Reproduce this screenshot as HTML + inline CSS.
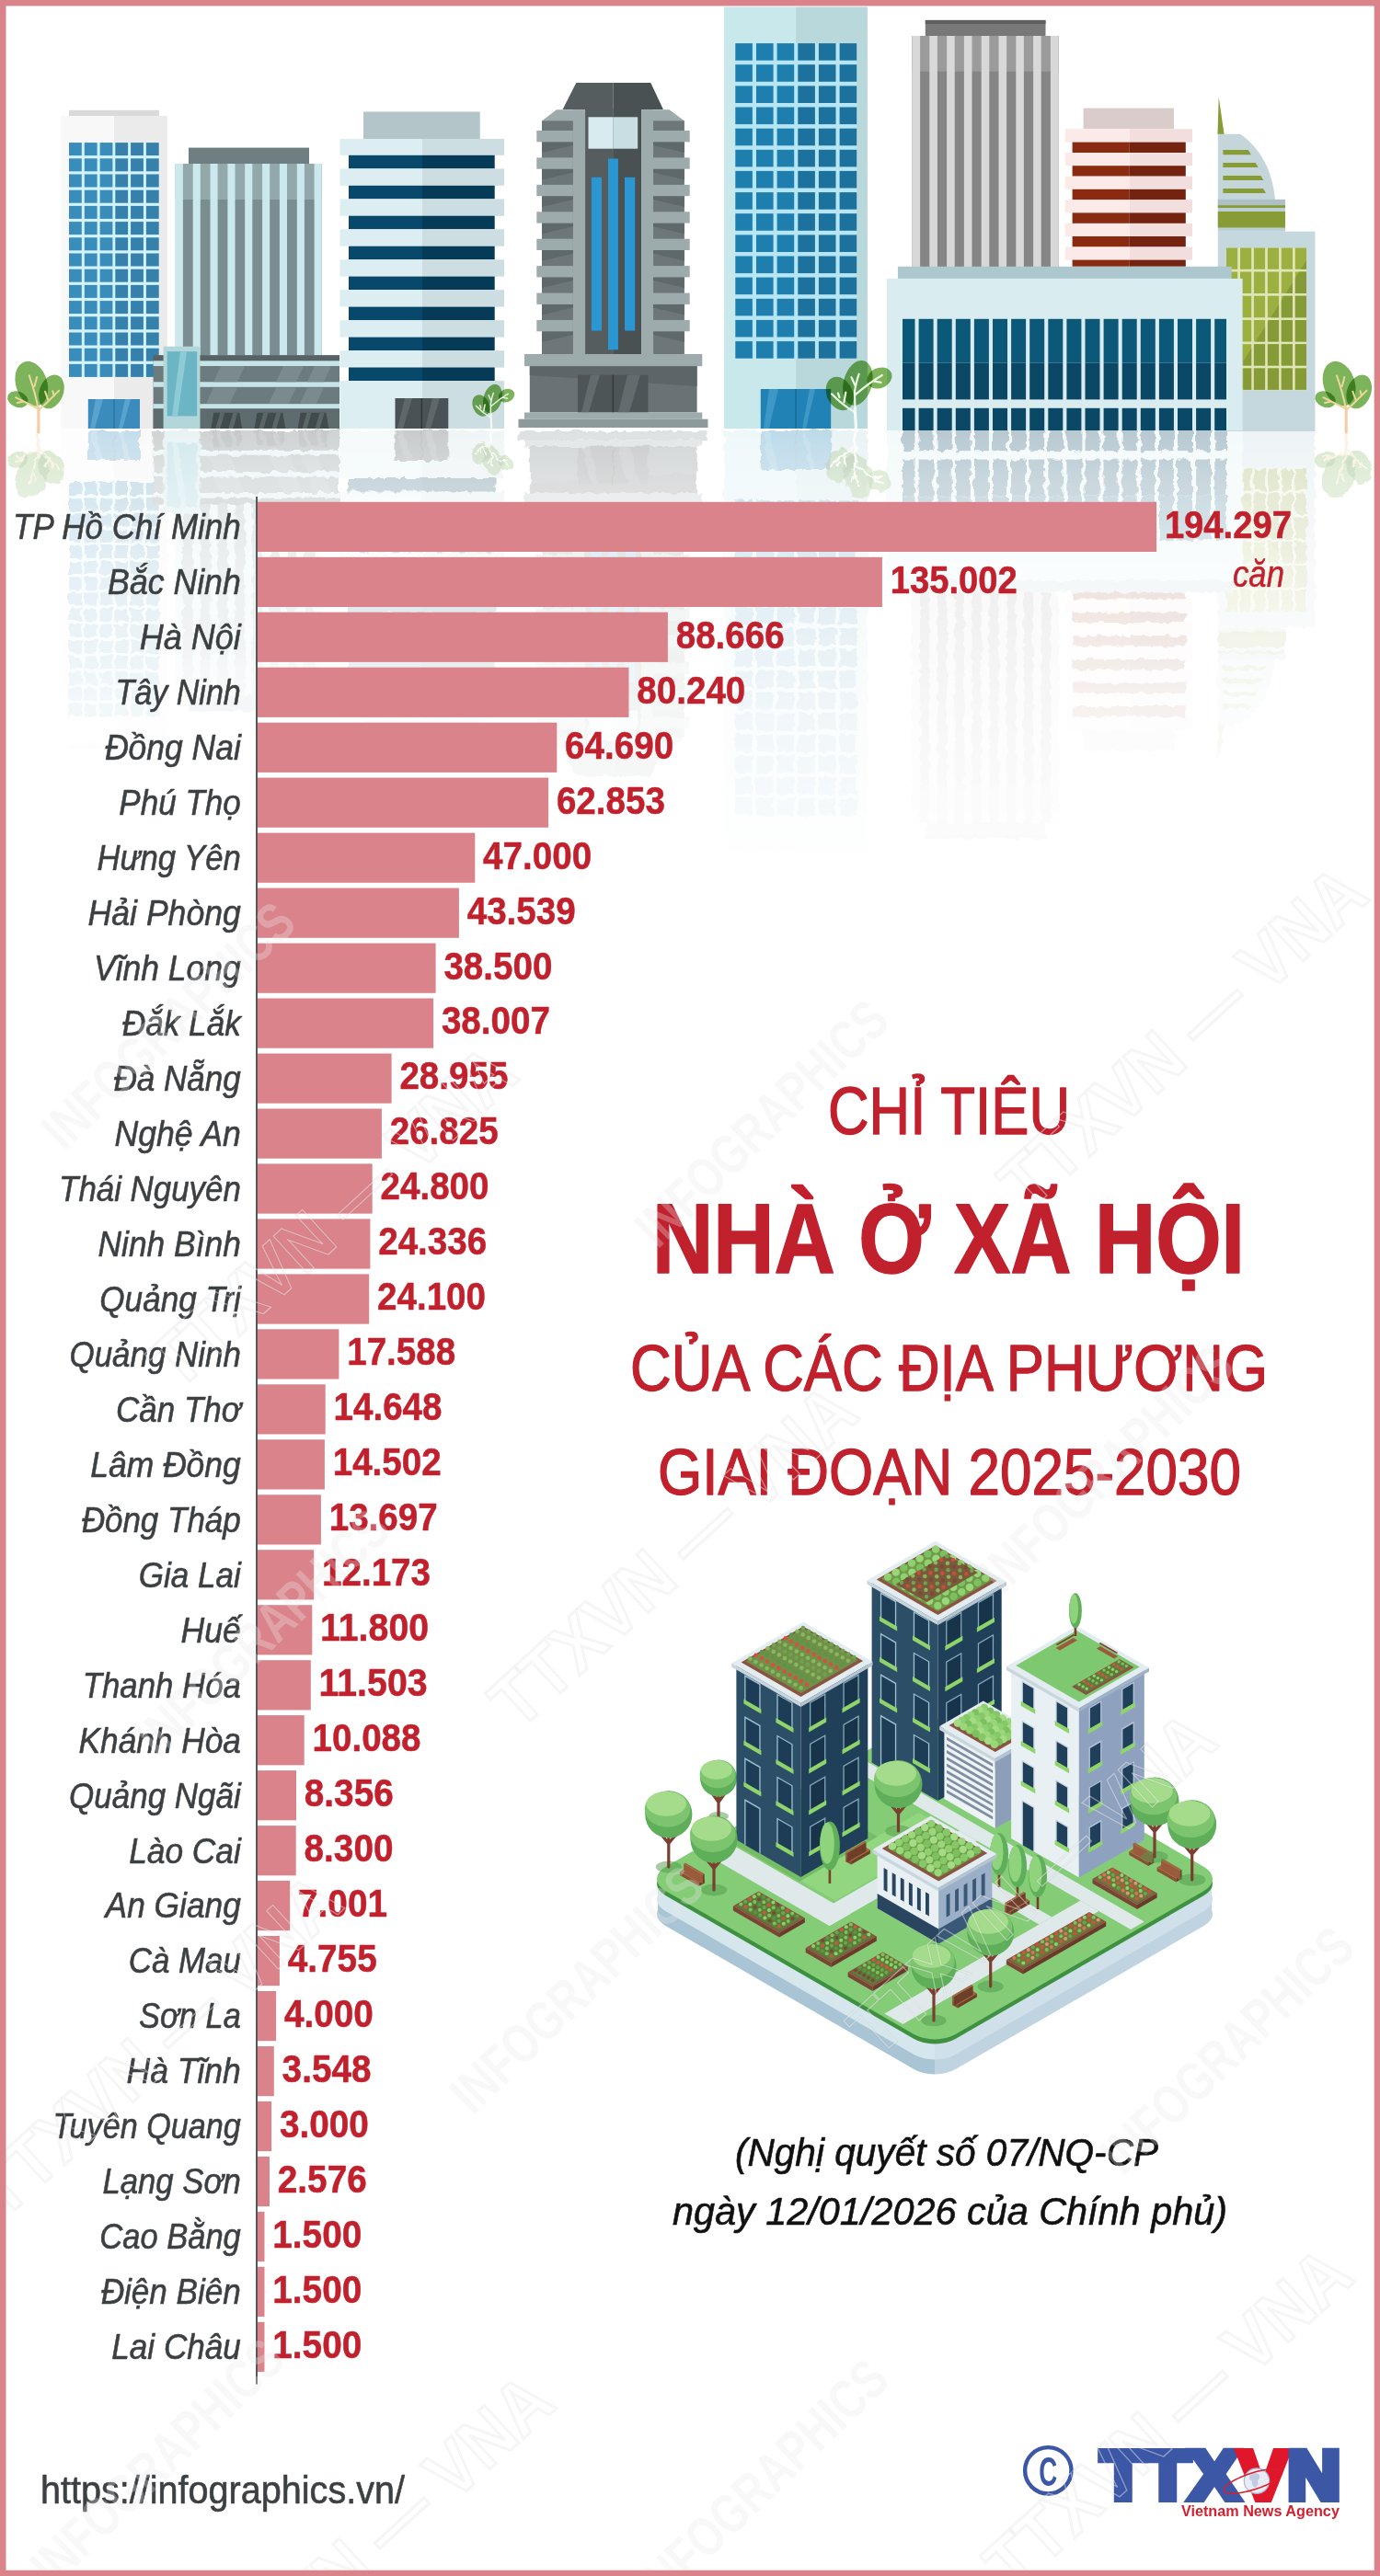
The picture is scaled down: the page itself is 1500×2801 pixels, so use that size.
<!DOCTYPE html>
<html lang="vi"><head><meta charset="utf-8"><title>Chỉ tiêu nhà ở xã hội</title>
<style>html,body{margin:0;padding:0;background:#fff}svg{display:block}text{font-family:"Liberation Sans",sans-serif}</style></head><body>
<svg width="1500" height="2801" viewBox="0 0 1500 2801">
<rect width="1500" height="2801" fill="#fff"/>
<defs><g id="sky"><rect x="1005.8" y="21.9" width="130.7" height="18.0" fill="#787878"/>
<rect x="1005.8" y="21.9" width="130.7" height="4.0" fill="#5e5e5e"/>
<rect x="991.5" y="39.0" width="159.0" height="251.0" fill="#858585"/>
<rect x="991.5" y="39.0" width="159.0" height="38.7" fill="#9b9b9b"/>
<rect x="991.5" y="39.0" width="8.6" height="251.0" fill="#d8d8d8"/>
<rect x="1010.3" y="39.0" width="8.6" height="251.0" fill="#d8d8d8"/>
<rect x="1029.1" y="39.0" width="8.6" height="251.0" fill="#d8d8d8"/>
<rect x="1047.9" y="39.0" width="8.6" height="251.0" fill="#d8d8d8"/>
<rect x="1066.7" y="39.0" width="8.6" height="251.0" fill="#d8d8d8"/>
<rect x="1085.5" y="39.0" width="8.6" height="251.0" fill="#d8d8d8"/>
<rect x="1104.3" y="39.0" width="8.6" height="251.0" fill="#d8d8d8"/>
<rect x="1123.1" y="39.0" width="8.6" height="251.0" fill="#d8d8d8"/>
<rect x="1141.9" y="39.0" width="8.6" height="251.0" fill="#d8d8d8"/>
<rect x="1177.6" y="117.6" width="98.4" height="22.7" fill="#dbcccc"/>
<rect x="1157.7" y="140.3" width="70.1" height="14.3" fill="#fbeae8"/>
<rect x="1227.8" y="140.3" width="68.2" height="14.3" fill="#f2dfdd"/>
<rect x="1165.6" y="154.6" width="62.2" height="11.5" fill="#8a2a10"/>
<rect x="1227.8" y="154.6" width="61.0" height="11.5" fill="#752311"/>
<rect x="1157.7" y="166.1" width="70.1" height="14.1" fill="#fbeae8"/>
<rect x="1227.8" y="166.1" width="68.2" height="14.1" fill="#f2dfdd"/>
<rect x="1165.6" y="180.2" width="62.2" height="11.5" fill="#8a2a10"/>
<rect x="1227.8" y="180.2" width="61.0" height="11.5" fill="#752311"/>
<rect x="1157.7" y="191.7" width="70.1" height="14.1" fill="#fbeae8"/>
<rect x="1227.8" y="191.7" width="68.2" height="14.1" fill="#f2dfdd"/>
<rect x="1165.6" y="205.8" width="62.2" height="11.5" fill="#8a2a10"/>
<rect x="1227.8" y="205.8" width="61.0" height="11.5" fill="#752311"/>
<rect x="1157.7" y="217.3" width="70.1" height="14.1" fill="#fbeae8"/>
<rect x="1227.8" y="217.3" width="68.2" height="14.1" fill="#f2dfdd"/>
<rect x="1165.6" y="231.4" width="62.2" height="11.5" fill="#8a2a10"/>
<rect x="1227.8" y="231.4" width="61.0" height="11.5" fill="#752311"/>
<rect x="1157.7" y="242.9" width="70.1" height="14.1" fill="#fbeae8"/>
<rect x="1227.8" y="242.9" width="68.2" height="14.1" fill="#f2dfdd"/>
<rect x="1165.6" y="257.0" width="62.2" height="11.5" fill="#8a2a10"/>
<rect x="1227.8" y="257.0" width="61.0" height="11.5" fill="#752311"/>
<rect x="1157.7" y="268.5" width="70.1" height="14.1" fill="#fbeae8"/>
<rect x="1227.8" y="268.5" width="68.2" height="14.1" fill="#f2dfdd"/>
<rect x="1165.6" y="282.6" width="62.2" height="7.2" fill="#8a2a10"/>
<rect x="1227.8" y="282.6" width="61.0" height="7.2" fill="#752311"/>
<rect x="1323.8" y="251.7" width="105.6" height="217.3" fill="#c4d8de"/>
<polygon points="1324.7,105.6 1323.5,146.0 1330.6,146.0" fill="#879b36"/>
<path d="M1323.8,145.7 L1348.4,145.7 Q1382,170 1386,217.5 L1323.8,217.5 Z" fill="#c5d6db"/>
<polygon points="1329.4,163.0 1356.8,163.0 1359.8,168.3 1329.4,168.3" fill="#879b36"/>
<polygon points="1329.4,177.0 1364.7,177.0 1367.7,182.0 1329.4,182.0" fill="#879b36"/>
<polygon points="1329.4,191.1 1370.4,191.1 1373.4,196.0 1329.4,196.0" fill="#879b36"/>
<polygon points="1329.4,205.0 1373.0,205.0 1376.0,210.0 1329.4,210.0" fill="#879b36"/>
<rect x="1323.8" y="216.9" width="73.2" height="34.8" fill="#bccfd4"/>
<rect x="1323.8" y="216.9" width="73.2" height="6.3" fill="#aebfc6"/>
<rect x="1323.8" y="223.2" width="73.2" height="2.8" fill="#879b36"/>
<rect x="1323.8" y="230.0" width="73.2" height="17.5" fill="#879b36"/>
<rect x="1333.0" y="269.4" width="87.0" height="154.9" fill="#dfe5b4"/>
<clipPath id="gw"><rect x="1333.0" y="269.4" width="12.2" height="23.4"/><rect x="1333.0" y="295.6" width="12.2" height="23.4"/><rect x="1333.0" y="321.8" width="12.2" height="23.4"/><rect x="1333.0" y="348.0" width="12.2" height="23.4"/><rect x="1333.0" y="374.2" width="12.2" height="23.4"/><rect x="1333.0" y="400.4" width="12.2" height="23.4"/><rect x="1348.0" y="269.4" width="12.2" height="23.4"/><rect x="1348.0" y="295.6" width="12.2" height="23.4"/><rect x="1348.0" y="321.8" width="12.2" height="23.4"/><rect x="1348.0" y="348.0" width="12.2" height="23.4"/><rect x="1348.0" y="374.2" width="12.2" height="23.4"/><rect x="1348.0" y="400.4" width="12.2" height="23.4"/><rect x="1362.9" y="269.4" width="12.2" height="23.4"/><rect x="1362.9" y="295.6" width="12.2" height="23.4"/><rect x="1362.9" y="321.8" width="12.2" height="23.4"/><rect x="1362.9" y="348.0" width="12.2" height="23.4"/><rect x="1362.9" y="374.2" width="12.2" height="23.4"/><rect x="1362.9" y="400.4" width="12.2" height="23.4"/><rect x="1377.9" y="269.4" width="12.2" height="23.4"/><rect x="1377.9" y="295.6" width="12.2" height="23.4"/><rect x="1377.9" y="321.8" width="12.2" height="23.4"/><rect x="1377.9" y="348.0" width="12.2" height="23.4"/><rect x="1377.9" y="374.2" width="12.2" height="23.4"/><rect x="1377.9" y="400.4" width="12.2" height="23.4"/><rect x="1392.8" y="269.4" width="12.2" height="23.4"/><rect x="1392.8" y="295.6" width="12.2" height="23.4"/><rect x="1392.8" y="321.8" width="12.2" height="23.4"/><rect x="1392.8" y="348.0" width="12.2" height="23.4"/><rect x="1392.8" y="374.2" width="12.2" height="23.4"/><rect x="1392.8" y="400.4" width="12.2" height="23.4"/><rect x="1407.8" y="269.4" width="12.2" height="23.4"/><rect x="1407.8" y="295.6" width="12.2" height="23.4"/><rect x="1407.8" y="321.8" width="12.2" height="23.4"/><rect x="1407.8" y="348.0" width="12.2" height="23.4"/><rect x="1407.8" y="374.2" width="12.2" height="23.4"/><rect x="1407.8" y="400.4" width="12.2" height="23.4"/></clipPath>
<g clip-path="url(#gw)"><rect x="1330.0" y="265.0" width="95.0" height="165.0" fill="#9bb040"/><polygon points="1420.5,282.3 1420.5,425.0 1351.5,425.0 1351.5,392.8" fill="#869a37"/></g>
<rect x="975.9" y="289.8" width="362.7" height="13.3" fill="#acc8ce"/>
<rect x="964.0" y="302.9" width="386.6" height="165.1" fill="#d9edf1"/>
<rect x="981.0" y="346.8" width="13.5" height="47.8" fill="#0c5878"/>
<rect x="981.0" y="394.6" width="13.5" height="39.8" fill="#0a4866"/>
<rect x="981.0" y="443.8" width="13.5" height="24.2" fill="#0a4866"/>
<rect x="998.6" y="346.8" width="16.0" height="47.8" fill="#0c5878"/>
<rect x="998.6" y="394.6" width="16.0" height="39.8" fill="#0a4866"/>
<rect x="998.6" y="443.8" width="16.0" height="24.2" fill="#0a4866"/>
<rect x="1018.7" y="346.8" width="16.0" height="47.8" fill="#0c5878"/>
<rect x="1018.7" y="394.6" width="16.0" height="39.8" fill="#0a4866"/>
<rect x="1018.7" y="443.8" width="16.0" height="24.2" fill="#0a4866"/>
<rect x="1038.8" y="346.8" width="16.0" height="47.8" fill="#0c5878"/>
<rect x="1038.8" y="394.6" width="16.0" height="39.8" fill="#0a4866"/>
<rect x="1038.8" y="443.8" width="16.0" height="24.2" fill="#0a4866"/>
<rect x="1058.9" y="346.8" width="16.0" height="47.8" fill="#0c5878"/>
<rect x="1058.9" y="394.6" width="16.0" height="39.8" fill="#0a4866"/>
<rect x="1058.9" y="443.8" width="16.0" height="24.2" fill="#0a4866"/>
<rect x="1079.0" y="346.8" width="16.0" height="47.8" fill="#0c5878"/>
<rect x="1079.0" y="394.6" width="16.0" height="39.8" fill="#0a4866"/>
<rect x="1079.0" y="443.8" width="16.0" height="24.2" fill="#0a4866"/>
<rect x="1099.1" y="346.8" width="16.0" height="47.8" fill="#0c5878"/>
<rect x="1099.1" y="394.6" width="16.0" height="39.8" fill="#0a4866"/>
<rect x="1099.1" y="443.8" width="16.0" height="24.2" fill="#0a4866"/>
<rect x="1119.2" y="346.8" width="16.0" height="47.8" fill="#0c5878"/>
<rect x="1119.2" y="394.6" width="16.0" height="39.8" fill="#0a4866"/>
<rect x="1119.2" y="443.8" width="16.0" height="24.2" fill="#0a4866"/>
<rect x="1139.3" y="346.8" width="16.0" height="47.8" fill="#0c5878"/>
<rect x="1139.3" y="394.6" width="16.0" height="39.8" fill="#0a4866"/>
<rect x="1139.3" y="443.8" width="16.0" height="24.2" fill="#0a4866"/>
<rect x="1159.4" y="346.8" width="16.0" height="47.8" fill="#0c5878"/>
<rect x="1159.4" y="394.6" width="16.0" height="39.8" fill="#0a4866"/>
<rect x="1159.4" y="443.8" width="16.0" height="24.2" fill="#0a4866"/>
<rect x="1179.5" y="346.8" width="16.0" height="47.8" fill="#0c5878"/>
<rect x="1179.5" y="394.6" width="16.0" height="39.8" fill="#0a4866"/>
<rect x="1179.5" y="443.8" width="16.0" height="24.2" fill="#0a4866"/>
<rect x="1199.6" y="346.8" width="16.0" height="47.8" fill="#0c5878"/>
<rect x="1199.6" y="394.6" width="16.0" height="39.8" fill="#0a4866"/>
<rect x="1199.6" y="443.8" width="16.0" height="24.2" fill="#0a4866"/>
<rect x="1219.7" y="346.8" width="16.0" height="47.8" fill="#0c5878"/>
<rect x="1219.7" y="394.6" width="16.0" height="39.8" fill="#0a4866"/>
<rect x="1219.7" y="443.8" width="16.0" height="24.2" fill="#0a4866"/>
<rect x="1239.8" y="346.8" width="16.0" height="47.8" fill="#0c5878"/>
<rect x="1239.8" y="394.6" width="16.0" height="39.8" fill="#0a4866"/>
<rect x="1239.8" y="443.8" width="16.0" height="24.2" fill="#0a4866"/>
<rect x="1259.9" y="346.8" width="16.0" height="47.8" fill="#0c5878"/>
<rect x="1259.9" y="394.6" width="16.0" height="39.8" fill="#0a4866"/>
<rect x="1259.9" y="443.8" width="16.0" height="24.2" fill="#0a4866"/>
<rect x="1280.0" y="346.8" width="16.0" height="47.8" fill="#0c5878"/>
<rect x="1280.0" y="394.6" width="16.0" height="39.8" fill="#0a4866"/>
<rect x="1280.0" y="443.8" width="16.0" height="24.2" fill="#0a4866"/>
<rect x="1300.1" y="346.8" width="16.0" height="47.8" fill="#0c5878"/>
<rect x="1300.1" y="394.6" width="16.0" height="39.8" fill="#0a4866"/>
<rect x="1300.1" y="443.8" width="16.0" height="24.2" fill="#0a4866"/>
<rect x="1320.2" y="346.8" width="12.8" height="47.8" fill="#0c5878"/>
<rect x="1320.2" y="394.6" width="12.8" height="39.8" fill="#0a4866"/>
<rect x="1320.2" y="443.8" width="12.8" height="24.2" fill="#0a4866"/>
<rect x="787.1" y="7.5" width="78.0" height="458.5" fill="#c9e8ec"/>
<rect x="865.1" y="7.5" width="77.8" height="458.5" fill="#b9d8dc"/>
<rect x="799.3" y="47.1" width="131.9" height="342.6" fill="#b6e6f3"/>
<rect x="799.3" y="47.1" width="18.6" height="18.6" fill="#1e7faf"/>
<rect x="799.3" y="70.2" width="18.6" height="18.6" fill="#1e7faf"/>
<rect x="799.3" y="93.4" width="18.6" height="18.6" fill="#1e7faf"/>
<rect x="799.3" y="116.5" width="18.6" height="18.6" fill="#1e7faf"/>
<rect x="799.3" y="139.7" width="18.6" height="18.6" fill="#1e7faf"/>
<rect x="799.3" y="162.8" width="18.6" height="18.6" fill="#1e7faf"/>
<rect x="799.3" y="185.9" width="18.6" height="18.6" fill="#1e7faf"/>
<rect x="799.3" y="209.1" width="18.6" height="18.6" fill="#1e7faf"/>
<rect x="799.3" y="232.2" width="18.6" height="18.6" fill="#1e7faf"/>
<rect x="799.3" y="255.4" width="18.6" height="18.6" fill="#1e7faf"/>
<rect x="799.3" y="278.5" width="18.6" height="18.6" fill="#1e7faf"/>
<rect x="799.3" y="301.6" width="18.6" height="18.6" fill="#1e7faf"/>
<rect x="799.3" y="324.8" width="18.6" height="18.6" fill="#1e7faf"/>
<rect x="799.3" y="347.9" width="18.6" height="18.6" fill="#1e7faf"/>
<rect x="799.3" y="371.1" width="18.6" height="18.6" fill="#1e7faf"/>
<rect x="822.0" y="47.1" width="18.6" height="18.6" fill="#1e7faf"/>
<rect x="822.0" y="70.2" width="18.6" height="18.6" fill="#1e7faf"/>
<rect x="822.0" y="93.4" width="18.6" height="18.6" fill="#1e7faf"/>
<rect x="822.0" y="116.5" width="18.6" height="18.6" fill="#1e7faf"/>
<rect x="822.0" y="139.7" width="18.6" height="18.6" fill="#1e7faf"/>
<rect x="822.0" y="162.8" width="18.6" height="18.6" fill="#1e7faf"/>
<rect x="822.0" y="185.9" width="18.6" height="18.6" fill="#1e7faf"/>
<rect x="822.0" y="209.1" width="18.6" height="18.6" fill="#1e7faf"/>
<rect x="822.0" y="232.2" width="18.6" height="18.6" fill="#1e7faf"/>
<rect x="822.0" y="255.4" width="18.6" height="18.6" fill="#1e7faf"/>
<rect x="822.0" y="278.5" width="18.6" height="18.6" fill="#1e7faf"/>
<rect x="822.0" y="301.6" width="18.6" height="18.6" fill="#1e7faf"/>
<rect x="822.0" y="324.8" width="18.6" height="18.6" fill="#1e7faf"/>
<rect x="822.0" y="347.9" width="18.6" height="18.6" fill="#1e7faf"/>
<rect x="822.0" y="371.1" width="18.6" height="18.6" fill="#1e7faf"/>
<rect x="844.6" y="47.1" width="18.6" height="18.6" fill="#1e7faf"/>
<rect x="844.6" y="70.2" width="18.6" height="18.6" fill="#1e7faf"/>
<rect x="844.6" y="93.4" width="18.6" height="18.6" fill="#1e7faf"/>
<rect x="844.6" y="116.5" width="18.6" height="18.6" fill="#1e7faf"/>
<rect x="844.6" y="139.7" width="18.6" height="18.6" fill="#1e7faf"/>
<rect x="844.6" y="162.8" width="18.6" height="18.6" fill="#1e7faf"/>
<rect x="844.6" y="185.9" width="18.6" height="18.6" fill="#1e7faf"/>
<rect x="844.6" y="209.1" width="18.6" height="18.6" fill="#1e7faf"/>
<rect x="844.6" y="232.2" width="18.6" height="18.6" fill="#1e7faf"/>
<rect x="844.6" y="255.4" width="18.6" height="18.6" fill="#1e7faf"/>
<rect x="844.6" y="278.5" width="18.6" height="18.6" fill="#1e7faf"/>
<rect x="844.6" y="301.6" width="18.6" height="18.6" fill="#1e7faf"/>
<rect x="844.6" y="324.8" width="18.6" height="18.6" fill="#1e7faf"/>
<rect x="844.6" y="347.9" width="18.6" height="18.6" fill="#1e7faf"/>
<rect x="844.6" y="371.1" width="18.6" height="18.6" fill="#1e7faf"/>
<rect x="867.3" y="47.1" width="18.6" height="18.6" fill="#1c729d"/>
<rect x="867.3" y="70.2" width="18.6" height="18.6" fill="#1c729d"/>
<rect x="867.3" y="93.4" width="18.6" height="18.6" fill="#1c729d"/>
<rect x="867.3" y="116.5" width="18.6" height="18.6" fill="#1c729d"/>
<rect x="867.3" y="139.7" width="18.6" height="18.6" fill="#1c729d"/>
<rect x="867.3" y="162.8" width="18.6" height="18.6" fill="#1c729d"/>
<rect x="867.3" y="185.9" width="18.6" height="18.6" fill="#1c729d"/>
<rect x="867.3" y="209.1" width="18.6" height="18.6" fill="#1c729d"/>
<rect x="867.3" y="232.2" width="18.6" height="18.6" fill="#1c729d"/>
<rect x="867.3" y="255.4" width="18.6" height="18.6" fill="#1c729d"/>
<rect x="867.3" y="278.5" width="18.6" height="18.6" fill="#1c729d"/>
<rect x="867.3" y="301.6" width="18.6" height="18.6" fill="#1c729d"/>
<rect x="867.3" y="324.8" width="18.6" height="18.6" fill="#1c729d"/>
<rect x="867.3" y="347.9" width="18.6" height="18.6" fill="#1c729d"/>
<rect x="867.3" y="371.1" width="18.6" height="18.6" fill="#1c729d"/>
<rect x="889.9" y="47.1" width="18.6" height="18.6" fill="#1c729d"/>
<rect x="889.9" y="70.2" width="18.6" height="18.6" fill="#1c729d"/>
<rect x="889.9" y="93.4" width="18.6" height="18.6" fill="#1c729d"/>
<rect x="889.9" y="116.5" width="18.6" height="18.6" fill="#1c729d"/>
<rect x="889.9" y="139.7" width="18.6" height="18.6" fill="#1c729d"/>
<rect x="889.9" y="162.8" width="18.6" height="18.6" fill="#1c729d"/>
<rect x="889.9" y="185.9" width="18.6" height="18.6" fill="#1c729d"/>
<rect x="889.9" y="209.1" width="18.6" height="18.6" fill="#1c729d"/>
<rect x="889.9" y="232.2" width="18.6" height="18.6" fill="#1c729d"/>
<rect x="889.9" y="255.4" width="18.6" height="18.6" fill="#1c729d"/>
<rect x="889.9" y="278.5" width="18.6" height="18.6" fill="#1c729d"/>
<rect x="889.9" y="301.6" width="18.6" height="18.6" fill="#1c729d"/>
<rect x="889.9" y="324.8" width="18.6" height="18.6" fill="#1c729d"/>
<rect x="889.9" y="347.9" width="18.6" height="18.6" fill="#1c729d"/>
<rect x="889.9" y="371.1" width="18.6" height="18.6" fill="#1c729d"/>
<rect x="912.6" y="47.1" width="18.6" height="18.6" fill="#1c729d"/>
<rect x="912.6" y="70.2" width="18.6" height="18.6" fill="#1c729d"/>
<rect x="912.6" y="93.4" width="18.6" height="18.6" fill="#1c729d"/>
<rect x="912.6" y="116.5" width="18.6" height="18.6" fill="#1c729d"/>
<rect x="912.6" y="139.7" width="18.6" height="18.6" fill="#1c729d"/>
<rect x="912.6" y="162.8" width="18.6" height="18.6" fill="#1c729d"/>
<rect x="912.6" y="185.9" width="18.6" height="18.6" fill="#1c729d"/>
<rect x="912.6" y="209.1" width="18.6" height="18.6" fill="#1c729d"/>
<rect x="912.6" y="232.2" width="18.6" height="18.6" fill="#1c729d"/>
<rect x="912.6" y="255.4" width="18.6" height="18.6" fill="#1c729d"/>
<rect x="912.6" y="278.5" width="18.6" height="18.6" fill="#1c729d"/>
<rect x="912.6" y="301.6" width="18.6" height="18.6" fill="#1c729d"/>
<rect x="912.6" y="324.8" width="18.6" height="18.6" fill="#1c729d"/>
<rect x="912.6" y="347.9" width="18.6" height="18.6" fill="#1c729d"/>
<rect x="912.6" y="371.1" width="18.6" height="18.6" fill="#1c729d"/>
<rect x="826.8" y="423.0" width="76.4" height="43.0" fill="#2183b5"/>
<rect x="864.4" y="423.0" width="1.2" height="43.0" fill="#17658e"/>
<polygon points="836.0,423.0 846.0,423.0 836.0,466.0 830.0,466.0" fill="#3d98c6"/><polygon points="880.0,423.0 886.0,423.0 876.0,466.0 872.0,466.0" fill="#3d98c6"/>
<polygon points="626.3,90.1 666.6,90.1 666.6,119.0 611.6,119.0" fill="#565d5f"/>
<polygon points="666.6,90.1 707.3,90.1 720.9,119.0 666.6,119.0" fill="#4a5153"/>
<polygon points="605.0,119.3 727.5,119.3 743.9,131.5 589.0,131.5" fill="#9dabad"/>
<rect x="589.0" y="131.2" width="154.9" height="254.0" fill="#6d7779"/>
<rect x="636.0" y="118.4" width="30.6" height="267.0" fill="#565d5f"/>
<rect x="666.6" y="118.4" width="30.4" height="267.0" fill="#4a5153"/>
<rect x="622.9" y="119.3" width="13.2" height="266.0" fill="#9dabad"/>
<rect x="697.0" y="119.3" width="13.1" height="266.0" fill="#9dabad"/>
<rect x="639.5" y="127.3" width="27.1" height="34.4" fill="#d8ecf0"/>
<rect x="666.6" y="127.3" width="26.6" height="34.4" fill="#c8dee2"/>
<rect x="661.0" y="172.5" width="10.9" height="207.8" fill="#2a96d2"/>
<rect x="642.9" y="192.8" width="11.1" height="166.8" fill="#2a96d2"/>
<rect x="679.0" y="192.8" width="11.2" height="166.8" fill="#2a96d2"/>
<polygon points="589.0,154.3 622.9,154.3 622.9,158.0 589.0,166.0" fill="#5f696b"/>
<polygon points="710.1,154.3 743.9,154.3 743.9,166.0 710.1,158.0" fill="#5f696b"/>
<rect x="583.3" y="142.0" width="39.6" height="12.3" fill="#9dabad"/>
<rect x="710.0" y="142.0" width="39.7" height="12.3" fill="#9dabad"/>
<polygon points="589.0,183.7 622.9,183.7 622.9,187.4 589.0,195.4" fill="#5f696b"/>
<polygon points="710.1,183.7 743.9,183.7 743.9,195.4 710.1,187.4" fill="#5f696b"/>
<rect x="583.3" y="171.4" width="39.6" height="12.3" fill="#9dabad"/>
<rect x="710.0" y="171.4" width="39.7" height="12.3" fill="#9dabad"/>
<polygon points="589.0,213.2 622.9,213.2 622.9,216.9 589.0,224.9" fill="#5f696b"/>
<polygon points="710.1,213.2 743.9,213.2 743.9,224.9 710.1,216.9" fill="#5f696b"/>
<rect x="583.3" y="200.9" width="39.6" height="12.3" fill="#9dabad"/>
<rect x="710.0" y="200.9" width="39.7" height="12.3" fill="#9dabad"/>
<polygon points="589.0,242.6 622.9,242.6 622.9,246.3 589.0,254.3" fill="#5f696b"/>
<polygon points="710.1,242.6 743.9,242.6 743.9,254.3 710.1,246.3" fill="#5f696b"/>
<rect x="583.3" y="230.3" width="39.6" height="12.3" fill="#9dabad"/>
<rect x="710.0" y="230.3" width="39.7" height="12.3" fill="#9dabad"/>
<polygon points="589.0,272.0 622.9,272.0 622.9,275.7 589.0,283.7" fill="#5f696b"/>
<polygon points="710.1,272.0 743.9,272.0 743.9,283.7 710.1,275.7" fill="#5f696b"/>
<rect x="583.3" y="259.7" width="39.6" height="12.3" fill="#9dabad"/>
<rect x="710.0" y="259.7" width="39.7" height="12.3" fill="#9dabad"/>
<polygon points="589.0,301.4 622.9,301.4 622.9,305.1 589.0,313.1" fill="#5f696b"/>
<polygon points="710.1,301.4 743.9,301.4 743.9,313.1 710.1,305.1" fill="#5f696b"/>
<rect x="583.3" y="289.1" width="39.6" height="12.3" fill="#9dabad"/>
<rect x="710.0" y="289.1" width="39.7" height="12.3" fill="#9dabad"/>
<polygon points="589.0,330.9 622.9,330.9 622.9,334.6 589.0,342.6" fill="#5f696b"/>
<polygon points="710.1,330.9 743.9,330.9 743.9,342.6 710.1,334.6" fill="#5f696b"/>
<rect x="583.3" y="318.6" width="39.6" height="12.3" fill="#9dabad"/>
<rect x="710.0" y="318.6" width="39.7" height="12.3" fill="#9dabad"/>
<polygon points="589.0,360.3 622.9,360.3 622.9,364.0 589.0,372.0" fill="#5f696b"/>
<polygon points="710.1,360.3 743.9,360.3 743.9,372.0 710.1,364.0" fill="#5f696b"/>
<rect x="583.3" y="348.0" width="39.6" height="12.3" fill="#9dabad"/>
<rect x="710.0" y="348.0" width="39.7" height="12.3" fill="#9dabad"/>
<rect x="570.0" y="385.0" width="193.3" height="13.2" fill="#9dabad"/>
<rect x="575.8" y="398.2" width="181.8" height="50.3" fill="#697375"/>
<polygon points="575.8,398.2 757.6,398.2 757.6,420.0 575.8,408.0" fill="#5c6567"/>
<rect x="628.0" y="407.6" width="76.5" height="40.9" fill="#4d5557"/>
<polygon points="642.0,407.6 652.0,407.6 640.0,448.5 632.0,448.5" fill="#626b6d"/><polygon points="682.0,407.6 696.0,407.6 684.0,448.5 672.0,448.5" fill="#626b6d"/>
<rect x="665.8" y="407.6" width="1.2" height="40.9" fill="#2f3536"/>
<rect x="570.0" y="448.5" width="193.3" height="7.2" fill="#9dabad"/>
<rect x="563.5" y="455.7" width="206.0" height="9.3" fill="#8c9a9c"/>
<rect x="395.0" y="121.5" width="126.7" height="29.5" fill="#b3c5c8"/>
<rect x="369.5" y="151.0" width="89.5" height="17.8" fill="#dceef2"/>
<rect x="459.0" y="151.0" width="89.0" height="17.8" fill="#ccdee2"/>
<rect x="379.0" y="168.8" width="80.0" height="14.6" fill="#08486a"/>
<rect x="459.0" y="168.8" width="78.7" height="14.6" fill="#063b57"/>
<rect x="369.5" y="183.4" width="89.5" height="18.4" fill="#dceef2"/>
<rect x="459.0" y="183.4" width="89.0" height="18.4" fill="#ccdee2"/>
<rect x="379.0" y="201.8" width="80.0" height="14.6" fill="#08486a"/>
<rect x="459.0" y="201.8" width="78.7" height="14.6" fill="#063b57"/>
<rect x="369.5" y="216.4" width="89.5" height="18.4" fill="#dceef2"/>
<rect x="459.0" y="216.4" width="89.0" height="18.4" fill="#ccdee2"/>
<rect x="379.0" y="234.7" width="80.0" height="14.6" fill="#08486a"/>
<rect x="459.0" y="234.7" width="78.7" height="14.6" fill="#063b57"/>
<rect x="369.5" y="249.3" width="89.5" height="18.4" fill="#dceef2"/>
<rect x="459.0" y="249.3" width="89.0" height="18.4" fill="#ccdee2"/>
<rect x="379.0" y="267.7" width="80.0" height="14.6" fill="#08486a"/>
<rect x="459.0" y="267.7" width="78.7" height="14.6" fill="#063b57"/>
<rect x="369.5" y="282.3" width="89.5" height="18.4" fill="#dceef2"/>
<rect x="459.0" y="282.3" width="89.0" height="18.4" fill="#ccdee2"/>
<rect x="379.0" y="300.6" width="80.0" height="14.6" fill="#08486a"/>
<rect x="459.0" y="300.6" width="78.7" height="14.6" fill="#063b57"/>
<rect x="369.5" y="315.2" width="89.5" height="18.4" fill="#dceef2"/>
<rect x="459.0" y="315.2" width="89.0" height="18.4" fill="#ccdee2"/>
<rect x="379.0" y="333.6" width="80.0" height="14.6" fill="#08486a"/>
<rect x="459.0" y="333.6" width="78.7" height="14.6" fill="#063b57"/>
<rect x="369.5" y="348.2" width="89.5" height="18.4" fill="#dceef2"/>
<rect x="459.0" y="348.2" width="89.0" height="18.4" fill="#ccdee2"/>
<rect x="379.0" y="366.6" width="80.0" height="14.6" fill="#08486a"/>
<rect x="459.0" y="366.6" width="78.7" height="14.6" fill="#063b57"/>
<rect x="369.5" y="381.2" width="89.5" height="18.4" fill="#dceef2"/>
<rect x="459.0" y="381.2" width="89.0" height="18.4" fill="#ccdee2"/>
<rect x="379.0" y="399.5" width="80.0" height="14.6" fill="#08486a"/>
<rect x="459.0" y="399.5" width="78.7" height="14.6" fill="#063b57"/>
<rect x="369.5" y="414.1" width="89.5" height="51.9" fill="#dceef2"/>
<rect x="459.0" y="414.1" width="89.0" height="51.9" fill="#ccdee2"/>
<rect x="429.5" y="433.0" width="57.8" height="33.0" fill="#495355"/>
<polygon points="440.0,433.0 448.0,433.0 438.0,466.0 432.0,466.0" fill="#5e686a"/><polygon points="470.0,433.0 478.0,433.0 468.0,466.0 462.0,466.0" fill="#5e686a"/>
<rect x="457.8" y="433.0" width="1.2" height="33.0" fill="#2c3335"/>
<rect x="74.9" y="119.8" width="98.0" height="6.6" fill="#dadada"/>
<rect x="66.0" y="126.0" width="58.0" height="340.0" fill="#f8f8f8"/>
<rect x="124.0" y="126.0" width="57.7" height="340.0" fill="#ebebeb"/>
<rect x="75.0" y="155.1" width="97.8" height="254.8" fill="#d2f3fb"/>
<rect x="75.0" y="155.1" width="13.8" height="14.0" fill="#3a8cba"/>
<rect x="75.0" y="172.3" width="13.8" height="14.0" fill="#3a8cba"/>
<rect x="75.0" y="189.5" width="13.8" height="14.0" fill="#3a8cba"/>
<rect x="75.0" y="206.7" width="13.8" height="14.0" fill="#3a8cba"/>
<rect x="75.0" y="223.9" width="13.8" height="14.0" fill="#3a8cba"/>
<rect x="75.0" y="241.1" width="13.8" height="14.0" fill="#3a8cba"/>
<rect x="75.0" y="258.3" width="13.8" height="14.0" fill="#3a8cba"/>
<rect x="75.0" y="275.5" width="13.8" height="14.0" fill="#3a8cba"/>
<rect x="75.0" y="292.7" width="13.8" height="14.0" fill="#3a8cba"/>
<rect x="75.0" y="309.9" width="13.8" height="14.0" fill="#3a8cba"/>
<rect x="75.0" y="327.1" width="13.8" height="14.0" fill="#3a8cba"/>
<rect x="75.0" y="344.3" width="13.8" height="14.0" fill="#3a8cba"/>
<rect x="75.0" y="361.5" width="13.8" height="14.0" fill="#3a8cba"/>
<rect x="75.0" y="378.7" width="13.8" height="14.0" fill="#3a8cba"/>
<rect x="75.0" y="395.9" width="13.8" height="14.0" fill="#3a8cba"/>
<rect x="91.8" y="155.1" width="13.8" height="14.0" fill="#3a8cba"/>
<rect x="91.8" y="172.3" width="13.8" height="14.0" fill="#3a8cba"/>
<rect x="91.8" y="189.5" width="13.8" height="14.0" fill="#3a8cba"/>
<rect x="91.8" y="206.7" width="13.8" height="14.0" fill="#3a8cba"/>
<rect x="91.8" y="223.9" width="13.8" height="14.0" fill="#3a8cba"/>
<rect x="91.8" y="241.1" width="13.8" height="14.0" fill="#3a8cba"/>
<rect x="91.8" y="258.3" width="13.8" height="14.0" fill="#3a8cba"/>
<rect x="91.8" y="275.5" width="13.8" height="14.0" fill="#3a8cba"/>
<rect x="91.8" y="292.7" width="13.8" height="14.0" fill="#3a8cba"/>
<rect x="91.8" y="309.9" width="13.8" height="14.0" fill="#3a8cba"/>
<rect x="91.8" y="327.1" width="13.8" height="14.0" fill="#3a8cba"/>
<rect x="91.8" y="344.3" width="13.8" height="14.0" fill="#3a8cba"/>
<rect x="91.8" y="361.5" width="13.8" height="14.0" fill="#3a8cba"/>
<rect x="91.8" y="378.7" width="13.8" height="14.0" fill="#3a8cba"/>
<rect x="91.8" y="395.9" width="13.8" height="14.0" fill="#3a8cba"/>
<rect x="108.6" y="155.1" width="13.8" height="14.0" fill="#3a8cba"/>
<rect x="108.6" y="172.3" width="13.8" height="14.0" fill="#3a8cba"/>
<rect x="108.6" y="189.5" width="13.8" height="14.0" fill="#3a8cba"/>
<rect x="108.6" y="206.7" width="13.8" height="14.0" fill="#3a8cba"/>
<rect x="108.6" y="223.9" width="13.8" height="14.0" fill="#3a8cba"/>
<rect x="108.6" y="241.1" width="13.8" height="14.0" fill="#3a8cba"/>
<rect x="108.6" y="258.3" width="13.8" height="14.0" fill="#3a8cba"/>
<rect x="108.6" y="275.5" width="13.8" height="14.0" fill="#3a8cba"/>
<rect x="108.6" y="292.7" width="13.8" height="14.0" fill="#3a8cba"/>
<rect x="108.6" y="309.9" width="13.8" height="14.0" fill="#3a8cba"/>
<rect x="108.6" y="327.1" width="13.8" height="14.0" fill="#3a8cba"/>
<rect x="108.6" y="344.3" width="13.8" height="14.0" fill="#3a8cba"/>
<rect x="108.6" y="361.5" width="13.8" height="14.0" fill="#3a8cba"/>
<rect x="108.6" y="378.7" width="13.8" height="14.0" fill="#3a8cba"/>
<rect x="108.6" y="395.9" width="13.8" height="14.0" fill="#3a8cba"/>
<rect x="125.3" y="155.1" width="13.8" height="14.0" fill="#3581ac"/>
<rect x="125.3" y="172.3" width="13.8" height="14.0" fill="#3581ac"/>
<rect x="125.3" y="189.5" width="13.8" height="14.0" fill="#3581ac"/>
<rect x="125.3" y="206.7" width="13.8" height="14.0" fill="#3581ac"/>
<rect x="125.3" y="223.9" width="13.8" height="14.0" fill="#3581ac"/>
<rect x="125.3" y="241.1" width="13.8" height="14.0" fill="#3581ac"/>
<rect x="125.3" y="258.3" width="13.8" height="14.0" fill="#3581ac"/>
<rect x="125.3" y="275.5" width="13.8" height="14.0" fill="#3581ac"/>
<rect x="125.3" y="292.7" width="13.8" height="14.0" fill="#3581ac"/>
<rect x="125.3" y="309.9" width="13.8" height="14.0" fill="#3581ac"/>
<rect x="125.3" y="327.1" width="13.8" height="14.0" fill="#3581ac"/>
<rect x="125.3" y="344.3" width="13.8" height="14.0" fill="#3581ac"/>
<rect x="125.3" y="361.5" width="13.8" height="14.0" fill="#3581ac"/>
<rect x="125.3" y="378.7" width="13.8" height="14.0" fill="#3581ac"/>
<rect x="125.3" y="395.9" width="13.8" height="14.0" fill="#3581ac"/>
<rect x="142.1" y="155.1" width="13.8" height="14.0" fill="#3581ac"/>
<rect x="142.1" y="172.3" width="13.8" height="14.0" fill="#3581ac"/>
<rect x="142.1" y="189.5" width="13.8" height="14.0" fill="#3581ac"/>
<rect x="142.1" y="206.7" width="13.8" height="14.0" fill="#3581ac"/>
<rect x="142.1" y="223.9" width="13.8" height="14.0" fill="#3581ac"/>
<rect x="142.1" y="241.1" width="13.8" height="14.0" fill="#3581ac"/>
<rect x="142.1" y="258.3" width="13.8" height="14.0" fill="#3581ac"/>
<rect x="142.1" y="275.5" width="13.8" height="14.0" fill="#3581ac"/>
<rect x="142.1" y="292.7" width="13.8" height="14.0" fill="#3581ac"/>
<rect x="142.1" y="309.9" width="13.8" height="14.0" fill="#3581ac"/>
<rect x="142.1" y="327.1" width="13.8" height="14.0" fill="#3581ac"/>
<rect x="142.1" y="344.3" width="13.8" height="14.0" fill="#3581ac"/>
<rect x="142.1" y="361.5" width="13.8" height="14.0" fill="#3581ac"/>
<rect x="142.1" y="378.7" width="13.8" height="14.0" fill="#3581ac"/>
<rect x="142.1" y="395.9" width="13.8" height="14.0" fill="#3581ac"/>
<rect x="158.9" y="155.1" width="13.8" height="14.0" fill="#3581ac"/>
<rect x="158.9" y="172.3" width="13.8" height="14.0" fill="#3581ac"/>
<rect x="158.9" y="189.5" width="13.8" height="14.0" fill="#3581ac"/>
<rect x="158.9" y="206.7" width="13.8" height="14.0" fill="#3581ac"/>
<rect x="158.9" y="223.9" width="13.8" height="14.0" fill="#3581ac"/>
<rect x="158.9" y="241.1" width="13.8" height="14.0" fill="#3581ac"/>
<rect x="158.9" y="258.3" width="13.8" height="14.0" fill="#3581ac"/>
<rect x="158.9" y="275.5" width="13.8" height="14.0" fill="#3581ac"/>
<rect x="158.9" y="292.7" width="13.8" height="14.0" fill="#3581ac"/>
<rect x="158.9" y="309.9" width="13.8" height="14.0" fill="#3581ac"/>
<rect x="158.9" y="327.1" width="13.8" height="14.0" fill="#3581ac"/>
<rect x="158.9" y="344.3" width="13.8" height="14.0" fill="#3581ac"/>
<rect x="158.9" y="361.5" width="13.8" height="14.0" fill="#3581ac"/>
<rect x="158.9" y="378.7" width="13.8" height="14.0" fill="#3581ac"/>
<rect x="158.9" y="395.9" width="13.8" height="14.0" fill="#3581ac"/>
<rect x="95.8" y="434.0" width="56.2" height="32.0" fill="#3b8cbd"/>
<rect x="123.4" y="434.0" width="1.2" height="32.0" fill="#2a6f9b"/>
<polygon points="104.0,434.0 112.0,434.0 103.0,466.0 98.0,466.0" fill="#5aa3cf"/><polygon points="136.0,434.0 142.0,434.0 133.0,466.0 129.0,466.0" fill="#5aa3cf"/>
<rect x="205.0" y="160.6" width="131.0" height="21.0" fill="#6f7e81"/>
<rect x="190.8" y="178.0" width="158.9" height="208.5" fill="#7a8d90"/>
<rect x="190.8" y="178.0" width="158.9" height="39.0" fill="#93a8aa"/>
<rect x="190.8" y="178.0" width="8.1" height="208.5" fill="#cbe8ec"/>
<rect x="209.7" y="178.0" width="8.1" height="208.5" fill="#cbe8ec"/>
<rect x="228.5" y="178.0" width="8.1" height="208.5" fill="#cbe8ec"/>
<rect x="247.4" y="178.0" width="8.1" height="208.5" fill="#cbe8ec"/>
<rect x="266.2" y="178.0" width="8.1" height="208.5" fill="#cbe8ec"/>
<rect x="285.1" y="178.0" width="8.1" height="208.5" fill="#cbe8ec"/>
<rect x="303.9" y="178.0" width="8.1" height="208.5" fill="#cbe8ec"/>
<rect x="322.8" y="178.0" width="8.1" height="208.5" fill="#cbe8ec"/>
<rect x="341.6" y="178.0" width="8.1" height="208.5" fill="#cbe8ec"/>
<rect x="166.6" y="386.3" width="202.4" height="79.7" fill="#6b7b7e"/>
<rect x="166.6" y="386.3" width="202.4" height="6.0" fill="#566265"/>
<rect x="166.6" y="392.4" width="202.4" height="5.6" fill="#c6e4e8"/>
<rect x="166.6" y="415.3" width="202.4" height="5.5" fill="#c6e4e8"/>
<rect x="166.6" y="439.2" width="202.4" height="5.0" fill="#c6e4e8"/>
<polygon points="240.0,398.0 266.0,398.0 258.0,415.3 232.0,415.3" fill="#7b8a8d"/>
<polygon points="232.0,421.5 258.0,421.5 250.0,438.7 224.0,438.7" fill="#7b8a8d"/>
<polygon points="308.0,398.0 330.0,398.0 322.0,415.3 300.0,415.3" fill="#7b8a8d"/>
<polygon points="300.0,421.5 322.0,421.5 314.0,438.7 292.0,438.7" fill="#7b8a8d"/>
<polygon points="342.0,398.0 360.0,398.0 352.0,415.3 334.0,415.3" fill="#7b8a8d"/>
<polygon points="334.0,421.5 352.0,421.5 344.0,438.7 326.0,438.7" fill="#7b8a8d"/>
<rect x="166.6" y="444.7" width="202.4" height="21.3" fill="#5e6c6f"/>
<polygon points="232.3,448.7 260.2,448.7 263.2,466.0 229.3,466.0" fill="#414a4c"/>
<polygon points="239.3,448.7 244.3,448.7 239.3,466.0 234.3,466.0" fill="#5b6669"/><polygon points="253.3,448.7 258.3,448.7 253.3,466.0 248.3,466.0" fill="#5b6669"/>
<polygon points="279.4,448.7 307.3,448.7 310.3,466.0 276.4,466.0" fill="#414a4c"/>
<polygon points="286.4,448.7 291.4,448.7 286.4,466.0 281.4,466.0" fill="#5b6669"/><polygon points="300.4,448.7 305.4,448.7 300.4,466.0 295.4,466.0" fill="#5b6669"/>
<polygon points="326.6,448.7 354.4,448.7 357.4,466.0 323.6,466.0" fill="#414a4c"/>
<polygon points="333.6,448.7 338.6,448.7 333.6,466.0 328.6,466.0" fill="#5b6669"/><polygon points="347.6,448.7 352.6,448.7 347.6,466.0 342.6,466.0" fill="#5b6669"/>
<rect x="177.6" y="376.7" width="39.9" height="89.3" fill="#b3d6da"/>
<rect x="181.7" y="382.2" width="32.5" height="70.2" fill="#6cb5c4"/>
<polygon points="196.0,382.2 203.0,382.2 193.0,452.4 187.0,452.4" fill="#8fcbd6"/>
<g><ellipse cx="1455.6" cy="417.2" rx="17" ry="25" fill="#7db35b" style="mix-blend-mode:multiply" transform="rotate(-18 1455.6 417.2)"/><ellipse cx="1477.2" cy="425.9" rx="13" ry="19" fill="#7db35b" style="mix-blend-mode:multiply" transform="rotate(20 1477.2 425.9)"/><ellipse cx="1440.6" cy="434.2" rx="11.5" ry="8.5" fill="#7db35b" style="mix-blend-mode:multiply" transform="rotate(20 1440.6 434.2)"/><path d="M1463.2,470 L1463.2,444.5 M1463.2,446 Q1460,428 1453,408.4 M1458.8,420 L1461.4,410 M1463.2,446 L1470,440 L1485.5,424.6 M1474,436 L1470.4,425.8 M1480,430.5 L1478.6,425.2 M1463,444.5 L1438.3,432.2 M1447,436.5 L1440,438" stroke="#ead79a" stroke-width="2" fill="none" stroke-linecap="round"/><path d="M1463.2,470 L1463.2,443" stroke="#f2cda5" stroke-width="3" fill="none" stroke-linecap="round"/></g>
<g transform="translate(-1421.3,0)"><ellipse cx="1455.6" cy="417.2" rx="17" ry="25" fill="#7db35b" style="mix-blend-mode:multiply" transform="rotate(-18 1455.6 417.2)"/><ellipse cx="1477.2" cy="425.9" rx="13" ry="19" fill="#7db35b" style="mix-blend-mode:multiply" transform="rotate(20 1477.2 425.9)"/><ellipse cx="1440.6" cy="434.2" rx="11.5" ry="8.5" fill="#7db35b" style="mix-blend-mode:multiply" transform="rotate(20 1440.6 434.2)"/><path d="M1463.2,470 L1463.2,444.5 M1463.2,446 Q1460,428 1453,408.4 M1458.8,420 L1461.4,410 M1463.2,446 L1470,440 L1485.5,424.6 M1474,436 L1470.4,425.8 M1480,430.5 L1478.6,425.2 M1463,444.5 L1438.3,432.2 M1447,436.5 L1440,438" stroke="#ead79a" stroke-width="2" fill="none" stroke-linecap="round"/><path d="M1463.2,470 L1463.2,443" stroke="#f2cda5" stroke-width="3" fill="none" stroke-linecap="round"/></g>
<g><ellipse cx="932.4" cy="416.4" rx="15.5" ry="25" fill="#7db35b" style="mix-blend-mode:multiply" transform="rotate(15 932.4 416.4)"/><ellipse cx="956" cy="411" rx="14" ry="11" fill="#7db35b" style="mix-blend-mode:multiply" transform="rotate(-25 956 411)"/><ellipse cx="912.7" cy="428" rx="14" ry="19" fill="#7db35b" style="mix-blend-mode:multiply" transform="rotate(-25 912.7 428)"/><path d="M930.4,465.4 Q929,440 929.1,425 Q931,414 933.7,406.7 M925.5,410.3 L929.8,419.8 M930.1,428.9 Q945,416 958.8,408 M950.7,414.6 L957.5,415.9 M928.5,447.8 Q915,440 904,428.3 M910.9,427.6 L912.5,432.2 M919.3,426.6 L917.4,437.4" stroke="#eaf9e2" stroke-width="2.2" fill="none" stroke-linecap="round"/><path d="M930.4,465.4 L929.3,444" stroke="#f4fbf4" stroke-width="3.2" fill="none" stroke-linecap="round"/></g>
<g transform="translate(534.2,464.9) scale(0.64) translate(-930.4,-465.4)"><ellipse cx="932.4" cy="416.4" rx="15.5" ry="25" fill="#7db35b" style="mix-blend-mode:multiply" transform="rotate(15 932.4 416.4)"/><ellipse cx="956" cy="411" rx="14" ry="11" fill="#7db35b" style="mix-blend-mode:multiply" transform="rotate(-25 956 411)"/><ellipse cx="912.7" cy="428" rx="14" ry="19" fill="#7db35b" style="mix-blend-mode:multiply" transform="rotate(-25 912.7 428)"/><path d="M930.4,465.4 Q929,440 929.1,425 Q931,414 933.7,406.7 M925.5,410.3 L929.8,419.8 M930.1,428.9 Q945,416 958.8,408 M950.7,414.6 L957.5,415.9 M928.5,447.8 Q915,440 904,428.3 M910.9,427.6 L912.5,432.2 M919.3,426.6 L917.4,437.4" stroke="#eaf9e2" stroke-width="2.2" fill="none" stroke-linecap="round"/><path d="M930.4,465.4 L929.3,444" stroke="#f4fbf4" stroke-width="3.2" fill="none" stroke-linecap="round"/></g></g>
<linearGradient id="fade" x1="0" y1="466" x2="0" y2="960" gradientUnits="userSpaceOnUse"><stop offset="0" stop-color="#fff" stop-opacity="0.30"/><stop offset="0.12" stop-color="#fff" stop-opacity="0.22"/><stop offset="0.3" stop-color="#fff" stop-opacity="0.14"/><stop offset="0.6" stop-color="#fff" stop-opacity="0.07"/><stop offset="0.9" stop-color="#fff" stop-opacity="0.03"/><stop offset="1" stop-color="#fff" stop-opacity="0"/></linearGradient>
<mask id="rm" maskUnits="userSpaceOnUse" x="0" y="460" width="1500" height="520"><rect x="0" y="460" width="1500" height="520" fill="url(#fade)"/></mask></defs>
<filter id="rough" x="0" y="460" width="1500" height="520" filterUnits="userSpaceOnUse"><feTurbulence type="fractalNoise" baseFrequency="0.11" numOctaves="2" seed="7" result="n"/><feDisplacementMap in="SourceGraphic" in2="n" scale="7" xChannelSelector="R" yChannelSelector="G"/></filter>
<g mask="url(#rm)"><g filter="url(#rough)"><use href="#sky" transform="translate(0,934) scale(1,-1)"/></g></g>
<use href="#sky"/>
<rect x="278" y="540" width="2" height="2052.5" fill="#55595c"/>
<rect x="280" y="545.8" width="977.1" height="54.2" fill="#db838b"/>
<rect x="280" y="605.8" width="678.9" height="54.2" fill="#db838b"/>
<rect x="280" y="665.7" width="445.9" height="54.2" fill="#db838b"/>
<rect x="280" y="725.7" width="403.5" height="54.2" fill="#db838b"/>
<rect x="280" y="785.7" width="325.3" height="54.2" fill="#db838b"/>
<rect x="280" y="845.6" width="316.1" height="54.2" fill="#db838b"/>
<rect x="280" y="905.6" width="236.3" height="54.2" fill="#db838b"/>
<rect x="280" y="965.6" width="218.9" height="54.2" fill="#db838b"/>
<rect x="280" y="1025.6" width="193.6" height="54.2" fill="#db838b"/>
<rect x="280" y="1085.5" width="191.1" height="54.2" fill="#db838b"/>
<rect x="280" y="1145.5" width="145.6" height="54.2" fill="#db838b"/>
<rect x="280" y="1205.5" width="134.9" height="54.2" fill="#db838b"/>
<rect x="280" y="1265.4" width="124.7" height="54.2" fill="#db838b"/>
<rect x="280" y="1325.4" width="122.4" height="54.2" fill="#db838b"/>
<rect x="280" y="1385.4" width="121.2" height="54.2" fill="#db838b"/>
<rect x="280" y="1445.3" width="88.4" height="54.2" fill="#db838b"/>
<rect x="280" y="1505.3" width="73.7" height="54.2" fill="#db838b"/>
<rect x="280" y="1565.3" width="72.9" height="54.2" fill="#db838b"/>
<rect x="280" y="1625.3" width="68.9" height="54.2" fill="#db838b"/>
<rect x="280" y="1685.2" width="61.2" height="54.2" fill="#db838b"/>
<rect x="280" y="1745.2" width="59.3" height="54.2" fill="#db838b"/>
<rect x="280" y="1805.2" width="57.8" height="54.2" fill="#db838b"/>
<rect x="280" y="1865.1" width="50.7" height="54.2" fill="#db838b"/>
<rect x="280" y="1925.1" width="42.0" height="54.2" fill="#db838b"/>
<rect x="280" y="1985.1" width="41.7" height="54.2" fill="#db838b"/>
<rect x="280" y="2045.0" width="35.2" height="54.2" fill="#db838b"/>
<rect x="280" y="2105.0" width="23.9" height="54.2" fill="#db838b"/>
<rect x="280" y="2165.0" width="20.1" height="54.2" fill="#db838b"/>
<rect x="280" y="2225.0" width="17.8" height="54.2" fill="#db838b"/>
<rect x="280" y="2284.9" width="15.1" height="54.2" fill="#db838b"/>
<rect x="280" y="2344.9" width="13.0" height="54.2" fill="#db838b"/>
<rect x="280" y="2404.9" width="7.5" height="54.2" fill="#db838b"/>
<rect x="280" y="2464.8" width="7.5" height="54.2" fill="#db838b"/>
<rect x="280" y="2524.8" width="7.5" height="54.2" fill="#db838b"/>
<text x="14.1" y="586.2" font-size="39.5" font-weight="normal" font-style="italic" fill="#3d4043" textLength="247.7" lengthAdjust="spacingAndGlyphs" stroke="#3d4043" stroke-width="0.6" stroke-linejoin="round">TP Hồ Chí Minh</text>
<text x="1265.9" y="584.7" font-size="42" font-weight="bold" font-style="normal" fill="#c1202d" textLength="138.0" lengthAdjust="spacingAndGlyphs" stroke="#c1202d" stroke-width="0.5" stroke-linejoin="round">194.297</text>
<text x="117.1" y="646.2" font-size="39.5" font-weight="normal" font-style="italic" fill="#3d4043" textLength="144.7" lengthAdjust="spacingAndGlyphs" stroke="#3d4043" stroke-width="0.6" stroke-linejoin="round">Bắc Ninh</text>
<text x="967.7" y="644.7" font-size="42" font-weight="bold" font-style="normal" fill="#c1202d" textLength="138.0" lengthAdjust="spacingAndGlyphs" stroke="#c1202d" stroke-width="0.5" stroke-linejoin="round">135.002</text>
<text x="151.8" y="706.1" font-size="39.5" font-weight="normal" font-style="italic" fill="#3d4043" textLength="110.0" lengthAdjust="spacingAndGlyphs" stroke="#3d4043" stroke-width="0.6" stroke-linejoin="round">Hà Nội</text>
<text x="734.7" y="704.6" font-size="42" font-weight="bold" font-style="normal" fill="#c1202d" textLength="118.0" lengthAdjust="spacingAndGlyphs" stroke="#c1202d" stroke-width="0.5" stroke-linejoin="round">88.666</text>
<text x="125.5" y="766.1" font-size="39.5" font-weight="normal" font-style="italic" fill="#3d4043" textLength="136.3" lengthAdjust="spacingAndGlyphs" stroke="#3d4043" stroke-width="0.6" stroke-linejoin="round">Tây Ninh</text>
<text x="692.3" y="764.6" font-size="42" font-weight="bold" font-style="normal" fill="#c1202d" textLength="118.0" lengthAdjust="spacingAndGlyphs" stroke="#c1202d" stroke-width="0.5" stroke-linejoin="round">80.240</text>
<text x="113.9" y="826.1" font-size="39.5" font-weight="normal" font-style="italic" fill="#3d4043" textLength="147.9" lengthAdjust="spacingAndGlyphs" stroke="#3d4043" stroke-width="0.6" stroke-linejoin="round">Đồng Nai</text>
<text x="614.1" y="824.6" font-size="42" font-weight="bold" font-style="normal" fill="#c1202d" textLength="118.0" lengthAdjust="spacingAndGlyphs" stroke="#c1202d" stroke-width="0.5" stroke-linejoin="round">64.690</text>
<text x="129.3" y="886.0" font-size="39.5" font-weight="normal" font-style="italic" fill="#3d4043" textLength="132.5" lengthAdjust="spacingAndGlyphs" stroke="#3d4043" stroke-width="0.6" stroke-linejoin="round">Phú Thọ</text>
<text x="604.9" y="884.5" font-size="42" font-weight="bold" font-style="normal" fill="#c1202d" textLength="118.0" lengthAdjust="spacingAndGlyphs" stroke="#c1202d" stroke-width="0.5" stroke-linejoin="round">62.853</text>
<text x="105.5" y="946.0" font-size="39.5" font-weight="normal" font-style="italic" fill="#3d4043" textLength="156.3" lengthAdjust="spacingAndGlyphs" stroke="#3d4043" stroke-width="0.6" stroke-linejoin="round">Hưng Yên</text>
<text x="525.1" y="944.5" font-size="42" font-weight="bold" font-style="normal" fill="#c1202d" textLength="118.0" lengthAdjust="spacingAndGlyphs" stroke="#c1202d" stroke-width="0.5" stroke-linejoin="round">47.000</text>
<text x="95.6" y="1006.0" font-size="39.5" font-weight="normal" font-style="italic" fill="#3d4043" textLength="166.2" lengthAdjust="spacingAndGlyphs" stroke="#3d4043" stroke-width="0.6" stroke-linejoin="round">Hải Phòng</text>
<text x="507.7" y="1004.5" font-size="42" font-weight="bold" font-style="normal" fill="#c1202d" textLength="118.0" lengthAdjust="spacingAndGlyphs" stroke="#c1202d" stroke-width="0.5" stroke-linejoin="round">43.539</text>
<text x="102.0" y="1066.0" font-size="39.5" font-weight="normal" font-style="italic" fill="#3d4043" textLength="159.8" lengthAdjust="spacingAndGlyphs" stroke="#3d4043" stroke-width="0.6" stroke-linejoin="round">Vĩnh Long</text>
<text x="482.4" y="1064.5" font-size="42" font-weight="bold" font-style="normal" fill="#c1202d" textLength="118.0" lengthAdjust="spacingAndGlyphs" stroke="#c1202d" stroke-width="0.5" stroke-linejoin="round">38.500</text>
<text x="132.8" y="1125.9" font-size="39.5" font-weight="normal" font-style="italic" fill="#3d4043" textLength="129.0" lengthAdjust="spacingAndGlyphs" stroke="#3d4043" stroke-width="0.6" stroke-linejoin="round">Đắk Lắk</text>
<text x="479.9" y="1124.4" font-size="42" font-weight="bold" font-style="normal" fill="#c1202d" textLength="118.0" lengthAdjust="spacingAndGlyphs" stroke="#c1202d" stroke-width="0.5" stroke-linejoin="round">38.007</text>
<text x="123.4" y="1185.9" font-size="39.5" font-weight="normal" font-style="italic" fill="#3d4043" textLength="138.4" lengthAdjust="spacingAndGlyphs" stroke="#3d4043" stroke-width="0.6" stroke-linejoin="round">Đà Nẵng</text>
<text x="434.4" y="1184.4" font-size="42" font-weight="bold" font-style="normal" fill="#c1202d" textLength="118.0" lengthAdjust="spacingAndGlyphs" stroke="#c1202d" stroke-width="0.5" stroke-linejoin="round">28.955</text>
<text x="124.4" y="1245.9" font-size="39.5" font-weight="normal" font-style="italic" fill="#3d4043" textLength="137.4" lengthAdjust="spacingAndGlyphs" stroke="#3d4043" stroke-width="0.6" stroke-linejoin="round">Nghệ An</text>
<text x="423.7" y="1244.4" font-size="42" font-weight="bold" font-style="normal" fill="#c1202d" textLength="118.0" lengthAdjust="spacingAndGlyphs" stroke="#c1202d" stroke-width="0.5" stroke-linejoin="round">26.825</text>
<text x="64.1" y="1305.8" font-size="39.5" font-weight="normal" font-style="italic" fill="#3d4043" textLength="197.7" lengthAdjust="spacingAndGlyphs" stroke="#3d4043" stroke-width="0.6" stroke-linejoin="round">Thái Nguyên</text>
<text x="413.5" y="1304.3" font-size="42" font-weight="bold" font-style="normal" fill="#c1202d" textLength="118.0" lengthAdjust="spacingAndGlyphs" stroke="#c1202d" stroke-width="0.5" stroke-linejoin="round">24.800</text>
<text x="106.6" y="1365.8" font-size="39.5" font-weight="normal" font-style="italic" fill="#3d4043" textLength="155.2" lengthAdjust="spacingAndGlyphs" stroke="#3d4043" stroke-width="0.6" stroke-linejoin="round">Ninh Bình</text>
<text x="411.2" y="1364.3" font-size="42" font-weight="bold" font-style="normal" fill="#c1202d" textLength="118.0" lengthAdjust="spacingAndGlyphs" stroke="#c1202d" stroke-width="0.5" stroke-linejoin="round">24.336</text>
<text x="108.3" y="1425.8" font-size="39.5" font-weight="normal" font-style="italic" fill="#3d4043" textLength="153.5" lengthAdjust="spacingAndGlyphs" stroke="#3d4043" stroke-width="0.6" stroke-linejoin="round">Quảng Trị</text>
<text x="410.0" y="1424.3" font-size="42" font-weight="bold" font-style="normal" fill="#c1202d" textLength="118.0" lengthAdjust="spacingAndGlyphs" stroke="#c1202d" stroke-width="0.5" stroke-linejoin="round">24.100</text>
<text x="75.5" y="1485.8" font-size="39.5" font-weight="normal" font-style="italic" fill="#3d4043" textLength="186.3" lengthAdjust="spacingAndGlyphs" stroke="#3d4043" stroke-width="0.6" stroke-linejoin="round">Quảng Ninh</text>
<text x="377.2" y="1484.2" font-size="42" font-weight="bold" font-style="normal" fill="#c1202d" textLength="118.0" lengthAdjust="spacingAndGlyphs" stroke="#c1202d" stroke-width="0.5" stroke-linejoin="round">17.588</text>
<text x="126.1" y="1545.7" font-size="39.5" font-weight="normal" font-style="italic" fill="#3d4043" textLength="135.7" lengthAdjust="spacingAndGlyphs" stroke="#3d4043" stroke-width="0.6" stroke-linejoin="round">Cần Thơ</text>
<text x="362.5" y="1544.2" font-size="42" font-weight="bold" font-style="normal" fill="#c1202d" textLength="118.0" lengthAdjust="spacingAndGlyphs" stroke="#c1202d" stroke-width="0.5" stroke-linejoin="round">14.648</text>
<text x="98.2" y="1605.7" font-size="39.5" font-weight="normal" font-style="italic" fill="#3d4043" textLength="163.6" lengthAdjust="spacingAndGlyphs" stroke="#3d4043" stroke-width="0.6" stroke-linejoin="round">Lâm Đồng</text>
<text x="361.7" y="1604.2" font-size="42" font-weight="bold" font-style="normal" fill="#c1202d" textLength="118.0" lengthAdjust="spacingAndGlyphs" stroke="#c1202d" stroke-width="0.5" stroke-linejoin="round">14.502</text>
<text x="88.7" y="1665.7" font-size="39.5" font-weight="normal" font-style="italic" fill="#3d4043" textLength="173.1" lengthAdjust="spacingAndGlyphs" stroke="#3d4043" stroke-width="0.6" stroke-linejoin="round">Đồng Tháp</text>
<text x="357.7" y="1664.2" font-size="42" font-weight="bold" font-style="normal" fill="#c1202d" textLength="118.0" lengthAdjust="spacingAndGlyphs" stroke="#c1202d" stroke-width="0.5" stroke-linejoin="round">13.697</text>
<text x="150.7" y="1725.6" font-size="39.5" font-weight="normal" font-style="italic" fill="#3d4043" textLength="111.1" lengthAdjust="spacingAndGlyphs" stroke="#3d4043" stroke-width="0.6" stroke-linejoin="round">Gia Lai</text>
<text x="350.0" y="1724.1" font-size="42" font-weight="bold" font-style="normal" fill="#c1202d" textLength="118.0" lengthAdjust="spacingAndGlyphs" stroke="#c1202d" stroke-width="0.5" stroke-linejoin="round">12.173</text>
<text x="196.5" y="1785.6" font-size="39.5" font-weight="normal" font-style="italic" fill="#3d4043" textLength="65.3" lengthAdjust="spacingAndGlyphs" stroke="#3d4043" stroke-width="0.6" stroke-linejoin="round">Huế</text>
<text x="348.1" y="1784.1" font-size="42" font-weight="bold" font-style="normal" fill="#c1202d" textLength="118.0" lengthAdjust="spacingAndGlyphs" stroke="#c1202d" stroke-width="0.5" stroke-linejoin="round">11.800</text>
<text x="89.8" y="1845.6" font-size="39.5" font-weight="normal" font-style="italic" fill="#3d4043" textLength="172.0" lengthAdjust="spacingAndGlyphs" stroke="#3d4043" stroke-width="0.6" stroke-linejoin="round">Thanh Hóa</text>
<text x="346.6" y="1844.1" font-size="42" font-weight="bold" font-style="normal" fill="#c1202d" textLength="118.0" lengthAdjust="spacingAndGlyphs" stroke="#c1202d" stroke-width="0.5" stroke-linejoin="round">11.503</text>
<text x="85.6" y="1905.5" font-size="39.5" font-weight="normal" font-style="italic" fill="#3d4043" textLength="176.2" lengthAdjust="spacingAndGlyphs" stroke="#3d4043" stroke-width="0.6" stroke-linejoin="round">Khánh Hòa</text>
<text x="339.5" y="1904.0" font-size="42" font-weight="bold" font-style="normal" fill="#c1202d" textLength="118.0" lengthAdjust="spacingAndGlyphs" stroke="#c1202d" stroke-width="0.5" stroke-linejoin="round">10.088</text>
<text x="75.1" y="1965.5" font-size="39.5" font-weight="normal" font-style="italic" fill="#3d4043" textLength="186.7" lengthAdjust="spacingAndGlyphs" stroke="#3d4043" stroke-width="0.6" stroke-linejoin="round">Quảng Ngãi</text>
<text x="330.8" y="1964.0" font-size="42" font-weight="bold" font-style="normal" fill="#c1202d" textLength="97.0" lengthAdjust="spacingAndGlyphs" stroke="#c1202d" stroke-width="0.5" stroke-linejoin="round">8.356</text>
<text x="140.2" y="2025.5" font-size="39.5" font-weight="normal" font-style="italic" fill="#3d4043" textLength="121.6" lengthAdjust="spacingAndGlyphs" stroke="#3d4043" stroke-width="0.6" stroke-linejoin="round">Lào Cai</text>
<text x="330.5" y="2024.0" font-size="42" font-weight="bold" font-style="normal" fill="#c1202d" textLength="97.0" lengthAdjust="spacingAndGlyphs" stroke="#c1202d" stroke-width="0.5" stroke-linejoin="round">8.300</text>
<text x="114.6" y="2085.4" font-size="39.5" font-weight="normal" font-style="italic" fill="#3d4043" textLength="147.2" lengthAdjust="spacingAndGlyphs" stroke="#3d4043" stroke-width="0.6" stroke-linejoin="round">An Giang</text>
<text x="324.0" y="2083.9" font-size="42" font-weight="bold" font-style="normal" fill="#c1202d" textLength="97.0" lengthAdjust="spacingAndGlyphs" stroke="#c1202d" stroke-width="0.5" stroke-linejoin="round">7.001</text>
<text x="139.8" y="2145.4" font-size="39.5" font-weight="normal" font-style="italic" fill="#3d4043" textLength="122.0" lengthAdjust="spacingAndGlyphs" stroke="#3d4043" stroke-width="0.6" stroke-linejoin="round">Cà Mau</text>
<text x="312.7" y="2143.9" font-size="42" font-weight="bold" font-style="normal" fill="#c1202d" textLength="97.0" lengthAdjust="spacingAndGlyphs" stroke="#c1202d" stroke-width="0.5" stroke-linejoin="round">4.755</text>
<text x="151.1" y="2205.4" font-size="39.5" font-weight="normal" font-style="italic" fill="#3d4043" textLength="110.7" lengthAdjust="spacingAndGlyphs" stroke="#3d4043" stroke-width="0.6" stroke-linejoin="round">Sơn La</text>
<text x="308.9" y="2203.9" font-size="42" font-weight="bold" font-style="normal" fill="#c1202d" textLength="97.0" lengthAdjust="spacingAndGlyphs" stroke="#c1202d" stroke-width="0.5" stroke-linejoin="round">4.000</text>
<text x="137.5" y="2265.4" font-size="39.5" font-weight="normal" font-style="italic" fill="#3d4043" textLength="124.3" lengthAdjust="spacingAndGlyphs" stroke="#3d4043" stroke-width="0.6" stroke-linejoin="round">Hà Tĩnh</text>
<text x="306.6" y="2263.9" font-size="42" font-weight="bold" font-style="normal" fill="#c1202d" textLength="97.0" lengthAdjust="spacingAndGlyphs" stroke="#c1202d" stroke-width="0.5" stroke-linejoin="round">3.548</text>
<text x="57.2" y="2325.3" font-size="39.5" font-weight="normal" font-style="italic" fill="#3d4043" textLength="204.6" lengthAdjust="spacingAndGlyphs" stroke="#3d4043" stroke-width="0.6" stroke-linejoin="round">Tuyên Quang</text>
<text x="303.9" y="2323.8" font-size="42" font-weight="bold" font-style="normal" fill="#c1202d" textLength="97.0" lengthAdjust="spacingAndGlyphs" stroke="#c1202d" stroke-width="0.5" stroke-linejoin="round">3.000</text>
<text x="111.4" y="2385.3" font-size="39.5" font-weight="normal" font-style="italic" fill="#3d4043" textLength="150.4" lengthAdjust="spacingAndGlyphs" stroke="#3d4043" stroke-width="0.6" stroke-linejoin="round">Lạng Sơn</text>
<text x="301.8" y="2383.8" font-size="42" font-weight="bold" font-style="normal" fill="#c1202d" textLength="97.0" lengthAdjust="spacingAndGlyphs" stroke="#c1202d" stroke-width="0.5" stroke-linejoin="round">2.576</text>
<text x="108.3" y="2445.3" font-size="39.5" font-weight="normal" font-style="italic" fill="#3d4043" textLength="153.5" lengthAdjust="spacingAndGlyphs" stroke="#3d4043" stroke-width="0.6" stroke-linejoin="round">Cao Bằng</text>
<text x="296.3" y="2443.8" font-size="42" font-weight="bold" font-style="normal" fill="#c1202d" textLength="97.0" lengthAdjust="spacingAndGlyphs" stroke="#c1202d" stroke-width="0.5" stroke-linejoin="round">1.500</text>
<text x="109.7" y="2505.2" font-size="39.5" font-weight="normal" font-style="italic" fill="#3d4043" textLength="152.1" lengthAdjust="spacingAndGlyphs" stroke="#3d4043" stroke-width="0.6" stroke-linejoin="round">Điện Biên</text>
<text x="296.3" y="2503.7" font-size="42" font-weight="bold" font-style="normal" fill="#c1202d" textLength="97.0" lengthAdjust="spacingAndGlyphs" stroke="#c1202d" stroke-width="0.5" stroke-linejoin="round">1.500</text>
<text x="121.3" y="2565.2" font-size="39.5" font-weight="normal" font-style="italic" fill="#3d4043" textLength="140.5" lengthAdjust="spacingAndGlyphs" stroke="#3d4043" stroke-width="0.6" stroke-linejoin="round">Lai Châu</text>
<text x="296.3" y="2563.7" font-size="42" font-weight="bold" font-style="normal" fill="#c1202d" textLength="97.0" lengthAdjust="spacingAndGlyphs" stroke="#c1202d" stroke-width="0.5" stroke-linejoin="round">1.500</text>
<text x="1340.0" y="637.6" font-size="41" font-weight="normal" font-style="italic" fill="#c1202d" textLength="56.0" lengthAdjust="spacingAndGlyphs" stroke="#c1202d" stroke-width="0.5" stroke-linejoin="round">căn</text>
<text x="900.0" y="1232.5" font-size="71.5" font-weight="normal" font-style="normal" fill="#c1202d" textLength="263.0" lengthAdjust="spacingAndGlyphs" stroke="#c1202d" stroke-width="1.3" stroke-linejoin="round">CHỈ TIÊU</text>
<text x="709.0" y="1384.0" font-size="107.5" font-weight="bold" font-style="normal" fill="#c1202d" textLength="644.0" lengthAdjust="spacingAndGlyphs" stroke="#c1202d" stroke-width="1.6" stroke-linejoin="round">NHÀ Ở XÃ HỘI</text>
<text x="685.0" y="1511.7" font-size="70.8" font-weight="normal" font-style="normal" fill="#c1202d" textLength="693.0" lengthAdjust="spacingAndGlyphs" stroke="#c1202d" stroke-width="1.3" stroke-linejoin="round">CỦA CÁC ĐỊA PHƯƠNG</text>
<text x="715.0" y="1624.6" font-size="70" font-weight="normal" font-style="normal" fill="#c1202d" textLength="634.0" lengthAdjust="spacingAndGlyphs" stroke="#c1202d" stroke-width="1.3" stroke-linejoin="round">GIAI ĐOẠN 2025-2030</text>
<g id="iso"><clipPath id="cl"><rect x="600" y="1800" width="416.0" height="500"/></clipPath><clipPath id="cr"><rect x="1016.0" y="1800" width="500" height="500"/></clipPath>
<g clip-path="url(#cl)"><rect x="0" y="0" width="364" height="364" rx="26" fill="#a9c5d5" transform="translate(0,38) matrix(0.8660254,0.5,-0.8660254,0.5,1016.0,1861.0)"/><rect x="715.1" y="2043.0" width="601.9" height="38" fill="#a9c5d5"/></g>
<g clip-path="url(#cr)"><rect x="0" y="0" width="364" height="364" rx="26" fill="#bfd3e0" transform="translate(0,38) matrix(0.8660254,0.5,-0.8660254,0.5,1016.0,1861.0)"/><rect x="715.1" y="2043.0" width="601.9" height="38" fill="#bfd3e0"/></g>
<g clip-path="url(#cl)"><rect x="0" y="0" width="364" height="364" rx="26" fill="#d5e6ec" transform="translate(0,22) matrix(0.8660254,0.5,-0.8660254,0.5,1016.0,1861.0)"/><rect x="715.1" y="2043.0" width="601.9" height="22" fill="#d5e6ec"/></g>
<g clip-path="url(#cr)"><rect x="0" y="0" width="364" height="364" rx="26" fill="#d0e0ea" transform="translate(0,22) matrix(0.8660254,0.5,-0.8660254,0.5,1016.0,1861.0)"/><rect x="715.1" y="2043.0" width="601.9" height="22" fill="#d0e0ea"/></g>
<rect x="0" y="0" width="364" height="364" rx="26" fill="#3f9142" transform="translate(0,5) matrix(0.8660254,0.5,-0.8660254,0.5,1016.0,1861.0)"/>
<rect x="715.1" y="2043.0" width="601.9" height="5" fill="#3f9142"/>
<rect x="0" y="0" width="364" height="364" rx="26" fill="#84cc76" transform="matrix(0.8660254,0.5,-0.8660254,0.5,1016.0,1861.0)"/>
<polygon points="935.5,1911.5 1243.8,2089.5 1229.0,2098.0 920.7,1920.0" fill="#dfe9ea"/>
<polygon points="783.9,1999.0 925.1,2080.5 901.7,2094.0 760.5,2012.5" fill="#dfe9ea"/>
<polygon points="1042.8,1990.5 1061.9,2001.5 901.7,2094.0 882.6,2083.0" fill="#dfe9ea"/>
<polygon points="1174.5,2066.5 1194.4,2078.0 981.4,2201.0 961.4,2189.5" fill="#dfe9ea"/>
<polygon points="1030.7,2019.5 1143.3,2084.5 1129.4,2092.5 1016.9,2027.5" fill="#dfe9ea"/>
<polygon points="998.7,1971.0 1035.9,1992.5 907.7,2066.5 870.5,2045.0" fill="#93d680"/>
<polygon points="875.7,1952.0 953.6,1997.0 868.8,2046.0 790.8,2001.0" fill="#74bd66"/>
<polygon points="947.6,1916.5 1019.5,1958.0 1019.5,1760.0 947.6,1718.5" fill="#2c4f67"/><polygon points="1088.7,1918.0 1019.5,1958.0 1019.5,1760.0 1088.7,1720.0" fill="#1f4058"/><polygon points="1016.9,1678.5 1088.7,1720.0 1019.5,1760.0 947.6,1718.5" fill="#e3ecf0"/>
<polygon points="956.9,1921.9 974.2,1931.9 974.2,1874.6 956.9,1864.6" fill="#9fc0d0"/><polygon points="958.2,1922.6 972.9,1931.1 972.9,1875.4 958.2,1866.9" fill="#1d3d56"/><polygon points="956.9,1850.1 974.2,1860.1 974.2,1830.1 956.9,1820.1" fill="#9fc0d0"/><polygon points="958.2,1849.4 972.9,1857.9 972.9,1830.9 958.2,1822.4" fill="#1d3d56"/><polygon points="956.0,1851.6 975.1,1862.6 975.1,1857.6 956.0,1846.6" fill="#8fd46a"/><polygon points="956.9,1805.6 974.2,1815.6 974.2,1785.6 956.9,1775.6" fill="#9fc0d0"/><polygon points="958.2,1804.9 972.9,1813.4 972.9,1786.4 958.2,1777.9" fill="#1d3d56"/><polygon points="956.0,1807.1 975.1,1818.1 975.1,1813.1 956.0,1802.1" fill="#8fd46a"/><polygon points="956.9,1761.1 974.2,1771.1 974.2,1741.1 956.9,1731.1" fill="#9fc0d0"/><polygon points="958.2,1760.4 972.9,1768.9 972.9,1741.9 958.2,1733.4" fill="#1d3d56"/><polygon points="956.0,1762.6 975.1,1773.6 975.1,1768.6 956.0,1757.6" fill="#8fd46a"/><polygon points="992.8,1915.4 1010.2,1925.4 1010.2,1895.4 992.8,1885.4" fill="#9fc0d0"/><polygon points="994.1,1914.6 1008.9,1923.1 1008.9,1896.1 994.1,1887.6" fill="#1d3d56"/><polygon points="992.0,1916.9 1011.0,1927.9 1011.0,1922.9 992.0,1911.9" fill="#8fd46a"/><polygon points="992.8,1870.9 1010.2,1880.9 1010.2,1850.9 992.8,1840.9" fill="#9fc0d0"/><polygon points="994.1,1870.1 1008.9,1878.6 1008.9,1851.6 994.1,1843.1" fill="#1d3d56"/><polygon points="992.0,1872.4 1011.0,1883.4 1011.0,1878.4 992.0,1867.4" fill="#8fd46a"/><polygon points="992.8,1826.4 1010.2,1836.4 1010.2,1806.4 992.8,1796.4" fill="#9fc0d0"/><polygon points="994.1,1825.6 1008.9,1834.1 1008.9,1807.1 994.1,1798.6" fill="#1d3d56"/><polygon points="992.0,1827.9 1011.0,1838.9 1011.0,1833.9 992.0,1822.9" fill="#8fd46a"/><polygon points="992.8,1781.9 1010.2,1791.9 1010.2,1761.9 992.8,1751.9" fill="#9fc0d0"/><polygon points="994.1,1781.1 1008.9,1789.6 1008.9,1762.6 994.1,1754.1" fill="#1d3d56"/><polygon points="992.0,1783.4 1011.0,1794.4 1011.0,1789.4 992.0,1778.4" fill="#8fd46a"/>
<polygon points="1080.1,1895.8 1062.8,1905.8 1062.8,1875.8 1080.1,1865.8" fill="#86a8ba"/><polygon points="1078.8,1895.0 1064.1,1903.5 1064.1,1876.5 1078.8,1868.0" fill="#17344b"/><polygon points="1081.0,1897.2 1061.9,1908.2 1061.9,1903.2 1081.0,1892.2" fill="#8fd46a"/><polygon points="1080.1,1851.2 1062.8,1861.2 1062.8,1831.2 1080.1,1821.2" fill="#86a8ba"/><polygon points="1078.8,1850.5 1064.1,1859.0 1064.1,1832.0 1078.8,1823.5" fill="#17344b"/><polygon points="1081.0,1852.8 1061.9,1863.8 1061.9,1858.8 1081.0,1847.8" fill="#8fd46a"/><polygon points="1080.1,1806.8 1062.8,1816.8 1062.8,1786.8 1080.1,1776.8" fill="#86a8ba"/><polygon points="1078.8,1806.0 1064.1,1814.5 1064.1,1787.5 1078.8,1779.0" fill="#17344b"/><polygon points="1081.0,1808.2 1061.9,1819.2 1061.9,1814.2 1081.0,1803.2" fill="#8fd46a"/><polygon points="1080.1,1762.2 1062.8,1772.2 1062.8,1742.2 1080.1,1732.2" fill="#86a8ba"/><polygon points="1078.8,1761.5 1064.1,1770.0 1064.1,1743.0 1078.8,1734.5" fill="#17344b"/><polygon points="1081.0,1763.8 1061.9,1774.8 1061.9,1769.8 1081.0,1758.8" fill="#8fd46a"/><polygon points="1045.4,1915.8 1028.1,1925.8 1028.1,1895.8 1045.4,1885.8" fill="#86a8ba"/><polygon points="1044.1,1915.0 1029.4,1923.5 1029.4,1896.5 1044.1,1888.0" fill="#17344b"/><polygon points="1046.3,1917.2 1027.3,1928.2 1027.3,1923.2 1046.3,1912.2" fill="#8fd46a"/><polygon points="1045.4,1871.2 1028.1,1881.2 1028.1,1851.2 1045.4,1841.2" fill="#86a8ba"/><polygon points="1044.1,1870.5 1029.4,1879.0 1029.4,1852.0 1044.1,1843.5" fill="#17344b"/><polygon points="1046.3,1872.8 1027.3,1883.8 1027.3,1878.8 1046.3,1867.8" fill="#8fd46a"/><polygon points="1045.4,1826.8 1028.1,1836.8 1028.1,1806.8 1045.4,1796.8" fill="#86a8ba"/><polygon points="1044.1,1826.0 1029.4,1834.5 1029.4,1807.5 1044.1,1799.0" fill="#17344b"/><polygon points="1046.3,1828.2 1027.3,1839.2 1027.3,1834.2 1046.3,1823.2" fill="#8fd46a"/><polygon points="1045.4,1782.2 1028.1,1792.2 1028.1,1762.2 1045.4,1752.2" fill="#86a8ba"/><polygon points="1044.1,1781.5 1029.4,1790.0 1029.4,1763.0 1044.1,1754.5" fill="#17344b"/><polygon points="1046.3,1783.8 1027.3,1794.8 1027.3,1789.8 1046.3,1778.8" fill="#8fd46a"/>
<polygon points="1016.9,1675.5 1093.9,1720.0 1019.5,1763.0 942.4,1718.5" fill="#e3ecf0"/><polygon points="942.4,1722.5 1019.5,1767.0 1019.5,1763.0 942.4,1718.5" fill="#c9d6de"/><polygon points="1093.9,1724.0 1019.5,1767.0 1019.5,1763.0 1093.9,1720.0" fill="#b4c4d0"/><polygon points="1016.9,1680.5 1083.5,1719.0 1019.5,1756.0 952.8,1717.5" fill="#8a5540"/><polygon points="1016.9,1682.5 1078.4,1718.0 1019.5,1752.0 958.0,1716.5" fill="#6e9a4a"/><circle cx="1017.1" cy="1684.6" r="4.2" fill="#8fd06f"/><circle cx="1008.4" cy="1689.6" r="4.2" fill="#7cc060"/><circle cx="999.7" cy="1694.6" r="4.2" fill="#9ad67a"/><circle cx="991.1" cy="1699.6" r="4.2" fill="#8fd06f"/><circle cx="982.4" cy="1704.6" r="4.2" fill="#7cc060"/><circle cx="973.8" cy="1709.6" r="4.2" fill="#9ad67a"/><circle cx="965.1" cy="1714.6" r="4.2" fill="#8fd06f"/><circle cx="1026.1" cy="1689.8" r="4.2" fill="#7cc060"/><circle cx="1017.4" cy="1694.8" r="4.2" fill="#9ad67a"/><circle cx="1008.8" cy="1699.8" r="4.2" fill="#8fd06f"/><circle cx="1000.1" cy="1704.8" r="4.2" fill="#7cc060"/><circle cx="991.4" cy="1709.8" r="4.2" fill="#9ad67a"/><circle cx="982.8" cy="1714.8" r="4.2" fill="#8fd06f"/><circle cx="974.1" cy="1719.8" r="4.2" fill="#7cc060"/><circle cx="1035.1" cy="1695.0" r="4.2" fill="#9ad67a"/><circle cx="1026.5" cy="1700.0" r="4.2" fill="#8fd06f"/><circle cx="1017.8" cy="1705.0" r="4.2" fill="#7cc060"/><circle cx="1009.1" cy="1710.0" r="4.2" fill="#9ad67a"/><circle cx="1000.5" cy="1715.0" r="4.2" fill="#8fd06f"/><circle cx="991.8" cy="1720.0" r="4.2" fill="#7cc060"/><circle cx="983.2" cy="1725.0" r="4.2" fill="#9ad67a"/><circle cx="1044.1" cy="1700.2" r="4.2" fill="#8fd06f"/><circle cx="1035.5" cy="1705.2" r="4.2" fill="#7cc060"/><circle cx="1026.8" cy="1710.2" r="4.2" fill="#9ad67a"/><circle cx="1018.2" cy="1715.2" r="4.2" fill="#8fd06f"/><circle cx="1009.5" cy="1720.2" r="4.2" fill="#7cc060"/><circle cx="1000.8" cy="1725.2" r="4.2" fill="#9ad67a"/><circle cx="992.2" cy="1730.2" r="4.2" fill="#8fd06f"/><circle cx="1053.2" cy="1705.5" r="4.2" fill="#7cc060"/><circle cx="1044.5" cy="1710.5" r="4.2" fill="#9ad67a"/><circle cx="1035.9" cy="1715.5" r="4.2" fill="#8fd06f"/><circle cx="1027.2" cy="1720.5" r="4.2" fill="#7cc060"/><circle cx="1018.5" cy="1725.5" r="4.2" fill="#9ad67a"/><circle cx="1009.9" cy="1730.5" r="4.2" fill="#8fd06f"/><circle cx="1001.2" cy="1735.5" r="4.2" fill="#7cc060"/><circle cx="1062.2" cy="1710.7" r="4.2" fill="#9ad67a"/><circle cx="1053.5" cy="1715.7" r="4.2" fill="#8fd06f"/><circle cx="1044.9" cy="1720.7" r="4.2" fill="#7cc060"/><circle cx="1036.2" cy="1725.7" r="4.2" fill="#9ad67a"/><circle cx="1027.6" cy="1730.7" r="4.2" fill="#8fd06f"/><circle cx="1018.9" cy="1735.7" r="4.2" fill="#7cc060"/><circle cx="1010.2" cy="1740.7" r="4.2" fill="#9ad67a"/><circle cx="1071.2" cy="1715.9" r="4.2" fill="#8fd06f"/><circle cx="1062.6" cy="1720.9" r="4.2" fill="#7cc060"/><circle cx="1053.9" cy="1725.9" r="4.2" fill="#9ad67a"/><circle cx="1045.3" cy="1730.9" r="4.2" fill="#8fd06f"/><circle cx="1036.6" cy="1735.9" r="4.2" fill="#7cc060"/><circle cx="1027.9" cy="1740.9" r="4.2" fill="#9ad67a"/><circle cx="1019.3" cy="1745.9" r="4.2" fill="#8fd06f"/><polygon points="1029.0,1690.5 1062.8,1710.0 1007.3,1742.0 973.6,1722.5" fill="#7a5a3c"/><circle cx="1029.3" cy="1692.2" r="2.2" fill="#6fa34d"/><circle cx="1023.1" cy="1695.8" r="2.2" fill="#c8503a"/><circle cx="1017.0" cy="1699.3" r="2.2" fill="#86b85c"/><circle cx="1010.8" cy="1702.9" r="2.2" fill="#7a4a35"/><circle cx="1004.7" cy="1706.5" r="2.2" fill="#6fa34d"/><circle cx="998.5" cy="1710.0" r="2.2" fill="#c8503a"/><circle cx="992.3" cy="1713.6" r="2.2" fill="#86b85c"/><circle cx="986.2" cy="1717.1" r="2.2" fill="#7a4a35"/><circle cx="980.0" cy="1720.7" r="2.2" fill="#6fa34d"/><circle cx="1036.0" cy="1696.1" r="2.2" fill="#c8503a"/><circle cx="1029.9" cy="1699.7" r="2.2" fill="#86b85c"/><circle cx="1023.7" cy="1703.2" r="2.2" fill="#7a4a35"/><circle cx="1017.6" cy="1706.8" r="2.2" fill="#6fa34d"/><circle cx="1011.4" cy="1710.3" r="2.2" fill="#c8503a"/><circle cx="1005.3" cy="1713.9" r="2.2" fill="#86b85c"/><circle cx="999.1" cy="1717.5" r="2.2" fill="#7a4a35"/><circle cx="992.9" cy="1721.0" r="2.2" fill="#6fa34d"/><circle cx="986.8" cy="1724.6" r="2.2" fill="#c8503a"/><circle cx="1042.8" cy="1700.0" r="2.2" fill="#86b85c"/><circle cx="1036.6" cy="1703.6" r="2.2" fill="#7a4a35"/><circle cx="1030.5" cy="1707.1" r="2.2" fill="#6fa34d"/><circle cx="1024.3" cy="1710.7" r="2.2" fill="#c8503a"/><circle cx="1018.2" cy="1714.2" r="2.2" fill="#86b85c"/><circle cx="1012.0" cy="1717.8" r="2.2" fill="#7a4a35"/><circle cx="1005.8" cy="1721.4" r="2.2" fill="#6fa34d"/><circle cx="999.7" cy="1724.9" r="2.2" fill="#c8503a"/><circle cx="993.5" cy="1728.5" r="2.2" fill="#86b85c"/><circle cx="1049.6" cy="1703.9" r="2.2" fill="#7a4a35"/><circle cx="1043.4" cy="1707.5" r="2.2" fill="#6fa34d"/><circle cx="1037.2" cy="1711.0" r="2.2" fill="#c8503a"/><circle cx="1031.1" cy="1714.6" r="2.2" fill="#86b85c"/><circle cx="1024.9" cy="1718.2" r="2.2" fill="#7a4a35"/><circle cx="1018.8" cy="1721.7" r="2.2" fill="#6fa34d"/><circle cx="1012.6" cy="1725.3" r="2.2" fill="#c8503a"/><circle cx="1006.4" cy="1728.8" r="2.2" fill="#86b85c"/><circle cx="1000.3" cy="1732.4" r="2.2" fill="#7a4a35"/><circle cx="1056.3" cy="1707.8" r="2.2" fill="#6fa34d"/><circle cx="1050.2" cy="1711.4" r="2.2" fill="#c8503a"/><circle cx="1044.0" cy="1714.9" r="2.2" fill="#86b85c"/><circle cx="1037.8" cy="1718.5" r="2.2" fill="#7a4a35"/><circle cx="1031.7" cy="1722.0" r="2.2" fill="#6fa34d"/><circle cx="1025.5" cy="1725.6" r="2.2" fill="#c8503a"/><circle cx="1019.4" cy="1729.2" r="2.2" fill="#86b85c"/><circle cx="1013.2" cy="1732.7" r="2.2" fill="#7a4a35"/><circle cx="1007.0" cy="1736.3" r="2.2" fill="#6fa34d"/>
<ellipse cx="781.0" cy="1975.0" rx="11.0" ry="5.0" fill="#4f9a4a" opacity="0.5"/><path d="M781.0,1975.0 L781.0,1945.5 M781.0,1959.5 L773.0,1948.5 M781.0,1959.5 L789.0,1948.5" stroke="#7a3f2e" stroke-width="3.2" fill="none" stroke-linecap="round"/><circle cx="781.0" cy="1933.5" r="20.0" fill="#5fae5a"/><ellipse cx="780.0" cy="1929.1" rx="19.4" ry="15.2" fill="#7cc56e"/><ellipse cx="779.0" cy="1924.5" rx="17.0" ry="10.4" fill="#a5dc8c"/>
<polygon points="800.4,2000.5 870.5,2041.0 870.5,1849.0 800.4,1808.5" fill="#2c4f67"/><polygon points="943.3,1999.0 870.5,2041.0 870.5,1849.0 943.3,1807.0" fill="#1f4058"/><polygon points="873.1,1766.5 943.3,1807.0 870.5,1849.0 800.4,1808.5" fill="#e3ecf0"/>
<polygon points="809.2,2005.6 826.6,2015.6 826.6,1966.1 809.2,1956.1" fill="#9fc0d0"/><polygon points="810.5,2006.4 825.3,2014.9 825.3,1966.9 810.5,1958.4" fill="#1d3d56"/><polygon points="809.2,1941.1 826.6,1951.1 826.6,1921.1 809.2,1911.1" fill="#9fc0d0"/><polygon points="810.5,1940.4 825.3,1948.9 825.3,1921.9 810.5,1913.4" fill="#1d3d56"/><polygon points="808.4,1942.6 827.4,1953.6 827.4,1948.6 808.4,1937.6" fill="#8fd46a"/><polygon points="809.2,1896.1 826.6,1906.1 826.6,1876.1 809.2,1866.1" fill="#9fc0d0"/><polygon points="810.5,1895.4 825.3,1903.9 825.3,1876.9 810.5,1868.4" fill="#1d3d56"/><polygon points="808.4,1897.6 827.4,1908.6 827.4,1903.6 808.4,1892.6" fill="#8fd46a"/><polygon points="809.2,1851.1 826.6,1861.1 826.6,1831.1 809.2,1821.1" fill="#9fc0d0"/><polygon points="810.5,1850.4 825.3,1858.9 825.3,1831.9 810.5,1823.4" fill="#1d3d56"/><polygon points="808.4,1852.6 827.4,1863.6 827.4,1858.6 808.4,1847.6" fill="#8fd46a"/><polygon points="844.3,2006.4 861.6,2016.4 861.6,1986.4 844.3,1976.4" fill="#9fc0d0"/><polygon points="845.6,2005.6 860.3,2014.1 860.3,1987.1 845.6,1978.6" fill="#1d3d56"/><polygon points="843.4,2007.9 862.5,2018.9 862.5,2013.9 843.4,2002.9" fill="#8fd46a"/><polygon points="844.3,1961.4 861.6,1971.4 861.6,1941.4 844.3,1931.4" fill="#9fc0d0"/><polygon points="845.6,1960.6 860.3,1969.1 860.3,1942.1 845.6,1933.6" fill="#1d3d56"/><polygon points="843.4,1962.9 862.5,1973.9 862.5,1968.9 843.4,1957.9" fill="#8fd46a"/><polygon points="844.3,1916.4 861.6,1926.4 861.6,1896.4 844.3,1886.4" fill="#9fc0d0"/><polygon points="845.6,1915.6 860.3,1924.1 860.3,1897.1 845.6,1888.6" fill="#1d3d56"/><polygon points="843.4,1917.9 862.5,1928.9 862.5,1923.9 843.4,1912.9" fill="#8fd46a"/><polygon points="844.3,1871.4 861.6,1881.4 861.6,1851.4 844.3,1841.4" fill="#9fc0d0"/><polygon points="845.6,1870.6 860.3,1879.1 860.3,1852.1 845.6,1843.6" fill="#1d3d56"/><polygon points="843.4,1872.9 862.5,1883.9 862.5,1878.9 843.4,1867.9" fill="#8fd46a"/>
<polygon points="933.7,1985.0 916.4,1995.0 916.4,1965.0 933.7,1955.0" fill="#86a8ba"/><polygon points="932.4,1984.2 917.7,1992.8 917.7,1965.8 932.4,1957.2" fill="#17344b"/><polygon points="934.6,1986.5 915.5,1997.5 915.5,1992.5 934.6,1981.5" fill="#8fd46a"/><polygon points="933.7,1940.0 916.4,1950.0 916.4,1920.0 933.7,1910.0" fill="#86a8ba"/><polygon points="932.4,1939.2 917.7,1947.8 917.7,1920.8 932.4,1912.2" fill="#17344b"/><polygon points="934.6,1941.5 915.5,1952.5 915.5,1947.5 934.6,1936.5" fill="#8fd46a"/><polygon points="933.7,1895.0 916.4,1905.0 916.4,1875.0 933.7,1865.0" fill="#86a8ba"/><polygon points="932.4,1894.2 917.7,1902.8 917.7,1875.8 932.4,1867.2" fill="#17344b"/><polygon points="934.6,1896.5 915.5,1907.5 915.5,1902.5 934.6,1891.5" fill="#8fd46a"/><polygon points="933.7,1850.0 916.4,1860.0 916.4,1830.0 933.7,1820.0" fill="#86a8ba"/><polygon points="932.4,1849.2 917.7,1857.8 917.7,1830.8 932.4,1822.2" fill="#17344b"/><polygon points="934.6,1851.5 915.5,1862.5 915.5,1857.5 934.6,1846.5" fill="#8fd46a"/><polygon points="897.4,2006.0 880.0,2016.0 880.0,1986.0 897.4,1976.0" fill="#86a8ba"/><polygon points="896.1,2005.2 881.3,2013.8 881.3,1986.8 896.1,1978.2" fill="#17344b"/><polygon points="898.2,2007.5 879.2,2018.5 879.2,2013.5 898.2,2002.5" fill="#8fd46a"/><polygon points="897.4,1961.0 880.0,1971.0 880.0,1941.0 897.4,1931.0" fill="#86a8ba"/><polygon points="896.1,1960.2 881.3,1968.8 881.3,1941.8 896.1,1933.2" fill="#17344b"/><polygon points="898.2,1962.5 879.2,1973.5 879.2,1968.5 898.2,1957.5" fill="#8fd46a"/><polygon points="897.4,1916.0 880.0,1926.0 880.0,1896.0 897.4,1886.0" fill="#86a8ba"/><polygon points="896.1,1915.2 881.3,1923.8 881.3,1896.8 896.1,1888.2" fill="#17344b"/><polygon points="898.2,1917.5 879.2,1928.5 879.2,1923.5 898.2,1912.5" fill="#8fd46a"/><polygon points="897.4,1871.0 880.0,1881.0 880.0,1851.0 897.4,1841.0" fill="#86a8ba"/><polygon points="896.1,1870.2 881.3,1878.8 881.3,1851.8 896.1,1843.2" fill="#17344b"/><polygon points="898.2,1872.5 879.2,1883.5 879.2,1878.5 898.2,1867.5" fill="#8fd46a"/>
<polygon points="873.1,1763.5 948.5,1807.0 870.5,1852.0 795.2,1808.5" fill="#e3ecf0"/><polygon points="795.2,1812.5 870.5,1856.0 870.5,1852.0 795.2,1808.5" fill="#c9d6de"/><polygon points="948.5,1811.0 870.5,1856.0 870.5,1852.0 948.5,1807.0" fill="#b4c4d0"/><polygon points="873.1,1768.5 938.1,1806.0 870.5,1845.0 805.6,1807.5" fill="#8a5540"/><polygon points="873.1,1770.5 932.9,1805.0 870.5,1841.0 810.8,1806.5" fill="#6f8f4a"/><circle cx="873.0" cy="1770.1" r="2.3" fill="#6fa34d"/><circle cx="866.6" cy="1773.8" r="2.3" fill="#86b85c"/><circle cx="860.2" cy="1777.5" r="2.3" fill="#5f9444"/><circle cx="853.8" cy="1781.2" r="2.3" fill="#d2533c"/><circle cx="847.3" cy="1784.9" r="2.3" fill="#86b85c"/><circle cx="840.9" cy="1788.6" r="2.3" fill="#6fa34d"/><circle cx="834.5" cy="1792.3" r="2.3" fill="#86b85c"/><circle cx="828.1" cy="1796.0" r="2.3" fill="#5f9444"/><circle cx="821.7" cy="1799.7" r="2.3" fill="#d2533c"/><circle cx="815.3" cy="1803.4" r="2.3" fill="#86b85c"/><circle cx="879.1" cy="1773.7" r="2.3" fill="#6fa34d"/><circle cx="872.7" cy="1777.4" r="2.3" fill="#86b85c"/><circle cx="866.3" cy="1781.1" r="2.3" fill="#5f9444"/><circle cx="859.9" cy="1784.8" r="2.3" fill="#d2533c"/><circle cx="853.5" cy="1788.5" r="2.3" fill="#86b85c"/><circle cx="847.1" cy="1792.2" r="2.3" fill="#6fa34d"/><circle cx="840.7" cy="1795.9" r="2.3" fill="#86b85c"/><circle cx="834.3" cy="1799.6" r="2.3" fill="#5f9444"/><circle cx="827.9" cy="1803.3" r="2.3" fill="#d2533c"/><circle cx="821.4" cy="1807.0" r="2.3" fill="#86b85c"/><circle cx="885.3" cy="1777.2" r="2.3" fill="#6fa34d"/><circle cx="878.9" cy="1780.9" r="2.3" fill="#86b85c"/><circle cx="872.5" cy="1784.6" r="2.3" fill="#5f9444"/><circle cx="866.0" cy="1788.3" r="2.3" fill="#d2533c"/><circle cx="859.6" cy="1792.0" r="2.3" fill="#86b85c"/><circle cx="853.2" cy="1795.7" r="2.3" fill="#6fa34d"/><circle cx="846.8" cy="1799.4" r="2.3" fill="#86b85c"/><circle cx="840.4" cy="1803.1" r="2.3" fill="#5f9444"/><circle cx="834.0" cy="1806.8" r="2.3" fill="#d2533c"/><circle cx="827.6" cy="1810.5" r="2.3" fill="#86b85c"/><circle cx="891.4" cy="1780.8" r="2.3" fill="#6fa34d"/><circle cx="885.0" cy="1784.5" r="2.3" fill="#86b85c"/><circle cx="878.6" cy="1788.2" r="2.3" fill="#5f9444"/><circle cx="872.2" cy="1791.9" r="2.3" fill="#d2533c"/><circle cx="865.8" cy="1795.6" r="2.3" fill="#86b85c"/><circle cx="859.4" cy="1799.3" r="2.3" fill="#6fa34d"/><circle cx="853.0" cy="1803.0" r="2.3" fill="#86b85c"/><circle cx="846.6" cy="1806.7" r="2.3" fill="#5f9444"/><circle cx="840.2" cy="1810.4" r="2.3" fill="#d2533c"/><circle cx="833.7" cy="1814.1" r="2.3" fill="#86b85c"/><circle cx="897.6" cy="1784.3" r="2.3" fill="#6fa34d"/><circle cx="891.2" cy="1788.0" r="2.3" fill="#86b85c"/><circle cx="884.8" cy="1791.7" r="2.3" fill="#5f9444"/><circle cx="878.3" cy="1795.4" r="2.3" fill="#d2533c"/><circle cx="871.9" cy="1799.1" r="2.3" fill="#86b85c"/><circle cx="865.5" cy="1802.8" r="2.3" fill="#6fa34d"/><circle cx="859.1" cy="1806.5" r="2.3" fill="#86b85c"/><circle cx="852.7" cy="1810.2" r="2.3" fill="#5f9444"/><circle cx="846.3" cy="1813.9" r="2.3" fill="#d2533c"/><circle cx="839.9" cy="1817.6" r="2.3" fill="#86b85c"/><circle cx="903.7" cy="1787.9" r="2.3" fill="#6fa34d"/><circle cx="897.3" cy="1791.6" r="2.3" fill="#86b85c"/><circle cx="890.9" cy="1795.3" r="2.3" fill="#5f9444"/><circle cx="884.5" cy="1799.0" r="2.3" fill="#d2533c"/><circle cx="878.1" cy="1802.7" r="2.3" fill="#86b85c"/><circle cx="871.7" cy="1806.4" r="2.3" fill="#6fa34d"/><circle cx="865.3" cy="1810.1" r="2.3" fill="#86b85c"/><circle cx="858.9" cy="1813.8" r="2.3" fill="#5f9444"/><circle cx="852.5" cy="1817.5" r="2.3" fill="#d2533c"/><circle cx="846.0" cy="1821.2" r="2.3" fill="#86b85c"/><circle cx="909.9" cy="1791.4" r="2.3" fill="#6fa34d"/><circle cx="903.5" cy="1795.1" r="2.3" fill="#86b85c"/><circle cx="897.1" cy="1798.8" r="2.3" fill="#5f9444"/><circle cx="890.6" cy="1802.5" r="2.3" fill="#d2533c"/><circle cx="884.2" cy="1806.2" r="2.3" fill="#86b85c"/><circle cx="877.8" cy="1809.9" r="2.3" fill="#6fa34d"/><circle cx="871.4" cy="1813.6" r="2.3" fill="#86b85c"/><circle cx="865.0" cy="1817.3" r="2.3" fill="#5f9444"/><circle cx="858.6" cy="1821.0" r="2.3" fill="#d2533c"/><circle cx="852.2" cy="1824.7" r="2.3" fill="#86b85c"/><circle cx="916.0" cy="1795.0" r="2.3" fill="#6fa34d"/><circle cx="909.6" cy="1798.7" r="2.3" fill="#86b85c"/><circle cx="903.2" cy="1802.4" r="2.3" fill="#5f9444"/><circle cx="896.8" cy="1806.1" r="2.3" fill="#d2533c"/><circle cx="890.4" cy="1809.8" r="2.3" fill="#86b85c"/><circle cx="884.0" cy="1813.5" r="2.3" fill="#6fa34d"/><circle cx="877.6" cy="1817.2" r="2.3" fill="#86b85c"/><circle cx="871.2" cy="1820.9" r="2.3" fill="#5f9444"/><circle cx="864.7" cy="1824.6" r="2.3" fill="#d2533c"/><circle cx="858.3" cy="1828.3" r="2.3" fill="#86b85c"/><circle cx="922.2" cy="1798.5" r="2.3" fill="#6fa34d"/><circle cx="915.8" cy="1802.2" r="2.3" fill="#86b85c"/><circle cx="909.3" cy="1805.9" r="2.3" fill="#5f9444"/><circle cx="902.9" cy="1809.6" r="2.3" fill="#d2533c"/><circle cx="896.5" cy="1813.3" r="2.3" fill="#86b85c"/><circle cx="890.1" cy="1817.0" r="2.3" fill="#6fa34d"/><circle cx="883.7" cy="1820.7" r="2.3" fill="#86b85c"/><circle cx="877.3" cy="1824.4" r="2.3" fill="#5f9444"/><circle cx="870.9" cy="1828.1" r="2.3" fill="#d2533c"/><circle cx="864.5" cy="1831.8" r="2.3" fill="#86b85c"/><circle cx="928.3" cy="1802.1" r="2.3" fill="#6fa34d"/><circle cx="921.9" cy="1805.8" r="2.3" fill="#86b85c"/><circle cx="915.5" cy="1809.5" r="2.3" fill="#5f9444"/><circle cx="909.1" cy="1813.2" r="2.3" fill="#d2533c"/><circle cx="902.7" cy="1816.9" r="2.3" fill="#86b85c"/><circle cx="896.3" cy="1820.6" r="2.3" fill="#6fa34d"/><circle cx="889.9" cy="1824.3" r="2.3" fill="#86b85c"/><circle cx="883.5" cy="1828.0" r="2.3" fill="#5f9444"/><circle cx="877.0" cy="1831.7" r="2.3" fill="#d2533c"/><circle cx="870.6" cy="1835.4" r="2.3" fill="#86b85c"/>
<polygon points="1026.4,1956.0 1081.8,1988.0 1081.8,1909.0 1026.4,1877.0" fill="#eef3f5"/><polygon points="1124.3,1963.5 1081.8,1988.0 1081.8,1909.0 1124.3,1884.5" fill="#8d9fb8"/><polygon points="1068.8,1852.5 1124.3,1884.5 1081.8,1909.0 1026.4,1877.0" fill="#e3ecf0"/>
<polygon points="1029.0,1949.5 1079.2,1978.5 1079.2,1975.3 1029.0,1946.3" fill="#7f8ea3"/>
<polygon points="1029.0,1942.3 1079.2,1971.3 1079.2,1968.1 1029.0,1939.1" fill="#7f8ea3"/>
<polygon points="1029.0,1935.1 1079.2,1964.1 1079.2,1960.9 1029.0,1931.9" fill="#7f8ea3"/>
<polygon points="1029.0,1927.9 1079.2,1956.9 1079.2,1953.7 1029.0,1924.7" fill="#7f8ea3"/>
<polygon points="1029.0,1920.7 1079.2,1949.7 1079.2,1946.5 1029.0,1917.5" fill="#7f8ea3"/>
<polygon points="1029.0,1913.5 1079.2,1942.5 1079.2,1939.3 1029.0,1910.3" fill="#7f8ea3"/>
<polygon points="1029.0,1906.3 1079.2,1935.3 1079.2,1932.1 1029.0,1903.1" fill="#7f8ea3"/>
<polygon points="1029.0,1899.1 1079.2,1928.1 1079.2,1924.9 1029.0,1895.9" fill="#7f8ea3"/>
<polygon points="1029.0,1891.9 1079.2,1920.9 1079.2,1917.7 1029.0,1888.7" fill="#7f8ea3"/>
<polygon points="1068.8,1849.5 1129.4,1884.5 1081.8,1912.0 1021.2,1877.0" fill="#e3ecf0"/><polygon points="1021.2,1881.0 1081.8,1916.0 1081.8,1912.0 1021.2,1877.0" fill="#c9d6de"/><polygon points="1129.4,1888.5 1081.8,1916.0 1081.8,1912.0 1129.4,1884.5" fill="#b4c4d0"/><polygon points="1068.8,1854.5 1119.1,1883.5 1081.8,1905.0 1031.6,1876.0" fill="#8a5540"/><polygon points="1068.8,1856.5 1113.9,1882.5 1081.8,1901.0 1036.8,1875.0" fill="#6e9a4a"/><circle cx="1069.8" cy="1856.8" r="4.2" fill="#8fd06f"/><circle cx="1064.9" cy="1859.6" r="4.2" fill="#a4dc86"/><circle cx="1060.1" cy="1862.4" r="4.2" fill="#7cc060"/><circle cx="1055.3" cy="1865.2" r="4.2" fill="#9ad67a"/><circle cx="1050.5" cy="1868.0" r="4.2" fill="#86c868"/><circle cx="1045.6" cy="1870.8" r="4.2" fill="#8fd06f"/><circle cx="1040.8" cy="1873.5" r="4.2" fill="#a4dc86"/><circle cx="1076.4" cy="1860.7" r="4.2" fill="#7cc060"/><circle cx="1071.6" cy="1863.5" r="4.2" fill="#9ad67a"/><circle cx="1066.8" cy="1866.2" r="4.2" fill="#86c868"/><circle cx="1062.0" cy="1869.0" r="4.2" fill="#8fd06f"/><circle cx="1057.1" cy="1871.8" r="4.2" fill="#a4dc86"/><circle cx="1052.3" cy="1874.6" r="4.2" fill="#7cc060"/><circle cx="1047.5" cy="1877.4" r="4.2" fill="#9ad67a"/><circle cx="1083.1" cy="1864.5" r="4.2" fill="#86c868"/><circle cx="1078.3" cy="1867.3" r="4.2" fill="#8fd06f"/><circle cx="1073.5" cy="1870.1" r="4.2" fill="#a4dc86"/><circle cx="1068.6" cy="1872.9" r="4.2" fill="#7cc060"/><circle cx="1063.8" cy="1875.7" r="4.2" fill="#9ad67a"/><circle cx="1059.0" cy="1878.5" r="4.2" fill="#86c868"/><circle cx="1054.2" cy="1881.2" r="4.2" fill="#8fd06f"/><circle cx="1089.8" cy="1868.4" r="4.2" fill="#a4dc86"/><circle cx="1085.0" cy="1871.2" r="4.2" fill="#7cc060"/><circle cx="1080.1" cy="1874.0" r="4.2" fill="#9ad67a"/><circle cx="1075.3" cy="1876.8" r="4.2" fill="#86c868"/><circle cx="1070.5" cy="1879.5" r="4.2" fill="#8fd06f"/><circle cx="1065.7" cy="1882.3" r="4.2" fill="#a4dc86"/><circle cx="1060.8" cy="1885.1" r="4.2" fill="#7cc060"/><circle cx="1096.5" cy="1872.2" r="4.2" fill="#9ad67a"/><circle cx="1091.7" cy="1875.0" r="4.2" fill="#86c868"/><circle cx="1086.8" cy="1877.8" r="4.2" fill="#8fd06f"/><circle cx="1082.0" cy="1880.6" r="4.2" fill="#a4dc86"/><circle cx="1077.2" cy="1883.4" r="4.2" fill="#7cc060"/><circle cx="1072.4" cy="1886.2" r="4.2" fill="#9ad67a"/><circle cx="1067.5" cy="1889.0" r="4.2" fill="#86c868"/><circle cx="1103.2" cy="1876.1" r="4.2" fill="#8fd06f"/><circle cx="1098.3" cy="1878.9" r="4.2" fill="#a4dc86"/><circle cx="1093.5" cy="1881.7" r="4.2" fill="#7cc060"/><circle cx="1088.7" cy="1884.5" r="4.2" fill="#9ad67a"/><circle cx="1083.9" cy="1887.2" r="4.2" fill="#86c868"/><circle cx="1079.0" cy="1890.0" r="4.2" fill="#8fd06f"/><circle cx="1074.2" cy="1892.8" r="4.2" fill="#a4dc86"/><circle cx="1109.8" cy="1880.0" r="4.2" fill="#7cc060"/><circle cx="1105.0" cy="1882.8" r="4.2" fill="#9ad67a"/><circle cx="1100.2" cy="1885.5" r="4.2" fill="#86c868"/><circle cx="1095.4" cy="1888.3" r="4.2" fill="#8fd06f"/><circle cx="1090.5" cy="1891.1" r="4.2" fill="#a4dc86"/><circle cx="1085.7" cy="1893.9" r="4.2" fill="#7cc060"/><circle cx="1080.9" cy="1896.7" r="4.2" fill="#9ad67a"/>
<ellipse cx="976.5" cy="1991.0" rx="14.3" ry="6.5" fill="#4f9a4a" opacity="0.5"/><path d="M976.5,1991.0 L976.5,1955.6 M976.5,1972.0 L966.1,1959.5 M976.5,1972.0 L986.9,1959.5" stroke="#7a3f2e" stroke-width="3.2" fill="none" stroke-linecap="round"/><circle cx="976.5" cy="1940.0" r="26.0" fill="#5fae5a"/><ellipse cx="975.2" cy="1934.3" rx="25.2" ry="19.8" fill="#7cc56e"/><ellipse cx="973.9" cy="1928.3" rx="22.1" ry="13.5" fill="#a5dc8c"/>
<polygon points="1099.1,1999.0 1172.8,2041.5 1172.8,1854.5 1099.1,1812.0" fill="#e9f0f3"/><polygon points="1243.8,2000.5 1172.8,2041.5 1172.8,1854.5 1243.8,1813.5" fill="#8ea2c0"/><polygon points="1170.2,1771.0 1243.8,1813.5 1172.8,1854.5 1099.1,1812.0" fill="#e3ecf0"/>
<polygon points="1110.6,2005.6 1124.5,2013.6 1124.5,1965.0 1110.6,1957.0" fill="#c5d2dc"/><polygon points="1111.9,2006.4 1123.2,2012.9 1123.2,1965.8 1111.9,1959.2" fill="#1f3f5a"/><polygon points="1110.6,1939.8 1124.5,1947.8 1124.5,1921.8 1110.6,1913.8" fill="#c5d2dc"/><polygon points="1111.9,1939.0 1123.2,1945.5 1123.2,1922.5 1111.9,1916.0" fill="#1f3f5a"/><polygon points="1109.7,1941.2 1125.3,1950.2 1125.3,1945.2 1109.7,1936.2" fill="#8fd46a"/><polygon points="1110.6,1896.5 1124.5,1904.5 1124.5,1878.5 1110.6,1870.5" fill="#c5d2dc"/><polygon points="1111.9,1895.8 1123.2,1902.2 1123.2,1879.2 1111.9,1872.8" fill="#1f3f5a"/><polygon points="1109.7,1898.0 1125.3,1907.0 1125.3,1902.0 1109.7,1893.0" fill="#8fd46a"/><polygon points="1110.6,1853.2 1124.5,1861.2 1124.5,1835.2 1110.6,1827.2" fill="#c5d2dc"/><polygon points="1111.9,1852.5 1123.2,1859.0 1123.2,1836.0 1111.9,1829.5" fill="#1f3f5a"/><polygon points="1109.7,1854.8 1125.3,1863.8 1125.3,1858.8 1109.7,1849.8" fill="#8fd46a"/><polygon points="1147.4,2004.2 1161.3,2012.2 1161.3,1986.2 1147.4,1978.2" fill="#c5d2dc"/><polygon points="1148.7,2003.5 1160.0,2010.0 1160.0,1987.0 1148.7,1980.5" fill="#1f3f5a"/><polygon points="1146.6,2005.8 1162.1,2014.8 1162.1,2009.8 1146.6,2000.8" fill="#8fd46a"/><polygon points="1147.4,1961.0 1161.3,1969.0 1161.3,1943.0 1147.4,1935.0" fill="#c5d2dc"/><polygon points="1148.7,1960.2 1160.0,1966.8 1160.0,1943.8 1148.7,1937.2" fill="#1f3f5a"/><polygon points="1146.6,1962.5 1162.1,1971.5 1162.1,1966.5 1146.6,1957.5" fill="#8fd46a"/><polygon points="1147.4,1917.8 1161.3,1925.8 1161.3,1899.8 1147.4,1891.8" fill="#c5d2dc"/><polygon points="1148.7,1917.0 1160.0,1923.5 1160.0,1900.5 1148.7,1894.0" fill="#1f3f5a"/><polygon points="1146.6,1919.2 1162.1,1928.2 1162.1,1923.2 1146.6,1914.2" fill="#8fd46a"/><polygon points="1147.4,1874.5 1161.3,1882.5 1161.3,1856.5 1147.4,1848.5" fill="#c5d2dc"/><polygon points="1148.7,1873.8 1160.0,1880.2 1160.0,1857.2 1148.7,1850.8" fill="#1f3f5a"/><polygon points="1146.6,1876.0 1162.1,1885.0 1162.1,1880.0 1146.6,1871.0" fill="#8fd46a"/>
<polygon points="1232.9,1984.1 1219.1,1992.1 1219.1,1966.1 1232.9,1958.1" fill="#b4c4d8"/><polygon points="1231.6,1983.4 1220.4,1989.9 1220.4,1966.9 1231.6,1960.4" fill="#1f3f5a"/><polygon points="1233.8,1985.6 1218.2,1994.6 1218.2,1989.6 1233.8,1980.6" fill="#8fd46a"/><polygon points="1232.9,1940.9 1219.1,1948.9 1219.1,1922.9 1232.9,1914.9" fill="#b4c4d8"/><polygon points="1231.6,1940.1 1220.4,1946.6 1220.4,1923.6 1231.6,1917.1" fill="#1f3f5a"/><polygon points="1233.8,1942.4 1218.2,1951.4 1218.2,1946.4 1233.8,1937.4" fill="#8fd46a"/><polygon points="1232.9,1897.6 1219.1,1905.6 1219.1,1879.6 1232.9,1871.6" fill="#b4c4d8"/><polygon points="1231.6,1896.9 1220.4,1903.4 1220.4,1880.4 1231.6,1873.9" fill="#1f3f5a"/><polygon points="1233.8,1899.1 1218.2,1908.1 1218.2,1903.1 1233.8,1894.1" fill="#8fd46a"/><polygon points="1232.9,1854.4 1219.1,1862.4 1219.1,1836.4 1232.9,1828.4" fill="#b4c4d8"/><polygon points="1231.6,1853.6 1220.4,1860.1 1220.4,1837.1 1231.6,1830.6" fill="#1f3f5a"/><polygon points="1233.8,1855.9 1218.2,1864.9 1218.2,1859.9 1233.8,1850.9" fill="#8fd46a"/><polygon points="1197.4,2004.6 1183.6,2012.6 1183.6,1986.6 1197.4,1978.6" fill="#b4c4d8"/><polygon points="1196.1,2003.9 1184.9,2010.4 1184.9,1987.4 1196.1,1980.9" fill="#1f3f5a"/><polygon points="1198.3,2006.1 1182.7,2015.1 1182.7,2010.1 1198.3,2001.1" fill="#8fd46a"/><polygon points="1197.4,1961.4 1183.6,1969.4 1183.6,1943.4 1197.4,1935.4" fill="#b4c4d8"/><polygon points="1196.1,1960.6 1184.9,1967.1 1184.9,1944.1 1196.1,1937.6" fill="#1f3f5a"/><polygon points="1198.3,1962.9 1182.7,1971.9 1182.7,1966.9 1198.3,1957.9" fill="#8fd46a"/><polygon points="1197.4,1918.1 1183.6,1926.1 1183.6,1900.1 1197.4,1892.1" fill="#b4c4d8"/><polygon points="1196.1,1917.4 1184.9,1923.9 1184.9,1900.9 1196.1,1894.4" fill="#1f3f5a"/><polygon points="1198.3,1919.6 1182.7,1928.6 1182.7,1923.6 1198.3,1914.6" fill="#8fd46a"/><polygon points="1197.4,1874.9 1183.6,1882.9 1183.6,1856.9 1197.4,1848.9" fill="#b4c4d8"/><polygon points="1196.1,1874.1 1184.9,1880.6 1184.9,1857.6 1196.1,1851.1" fill="#1f3f5a"/><polygon points="1198.3,1876.4 1182.7,1885.4 1182.7,1880.4 1198.3,1871.4" fill="#8fd46a"/>
<polygon points="1170.2,1768.0 1249.0,1813.5 1172.8,1857.5 1093.9,1812.0" fill="#e3ecf0"/>
<polygon points="1093.9,1816.0 1172.8,1861.5 1172.8,1857.5 1093.9,1812.0" fill="#c9d6de"/><polygon points="1249.0,1817.5 1172.8,1861.5 1172.8,1857.5 1249.0,1813.5" fill="#9fb2c8"/>
<polygon points="1170.2,1773.0 1238.6,1812.5 1172.8,1850.5 1104.3,1811.0" fill="#7ec870"/>

<polygon points="1216.9,1804.0 1232.5,1813.0 1180.5,1843.0 1165.0,1834.0" fill="#8a5540"/>
<polygon points="1216.9,1805.0 1229.0,1812.0 1180.5,1840.0 1168.4,1833.0" fill="#5a7d3c"/>
<circle cx="1216.2" cy="1806.7" r="1.7" fill="#7fc25a"/><circle cx="1210.9" cy="1809.8" r="1.7" fill="#d0573f"/><circle cx="1205.5" cy="1812.9" r="1.7" fill="#8fd46a"/><circle cx="1200.1" cy="1816.1" r="1.7" fill="#7fc25a"/><circle cx="1194.7" cy="1819.2" r="1.7" fill="#d0573f"/><circle cx="1189.3" cy="1822.3" r="1.7" fill="#8fd46a"/><circle cx="1183.9" cy="1825.4" r="1.7" fill="#7fc25a"/><circle cx="1178.5" cy="1828.5" r="1.7" fill="#d0573f"/><circle cx="1173.1" cy="1831.6" r="1.7" fill="#8fd46a"/><circle cx="1220.3" cy="1809.1" r="1.7" fill="#7fc25a"/><circle cx="1214.9" cy="1812.2" r="1.7" fill="#d0573f"/><circle cx="1209.5" cy="1815.3" r="1.7" fill="#8fd46a"/><circle cx="1204.1" cy="1818.4" r="1.7" fill="#7fc25a"/><circle cx="1198.7" cy="1821.5" r="1.7" fill="#d0573f"/><circle cx="1193.3" cy="1824.6" r="1.7" fill="#8fd46a"/><circle cx="1188.0" cy="1827.7" r="1.7" fill="#7fc25a"/><circle cx="1182.6" cy="1830.8" r="1.7" fill="#d0573f"/><circle cx="1177.2" cy="1833.9" r="1.7" fill="#8fd46a"/><circle cx="1224.3" cy="1811.4" r="1.7" fill="#7fc25a"/><circle cx="1218.9" cy="1814.5" r="1.7" fill="#d0573f"/><circle cx="1213.6" cy="1817.6" r="1.7" fill="#8fd46a"/><circle cx="1208.2" cy="1820.7" r="1.7" fill="#7fc25a"/><circle cx="1202.8" cy="1823.8" r="1.7" fill="#d0573f"/><circle cx="1197.4" cy="1826.9" r="1.7" fill="#8fd46a"/><circle cx="1192.0" cy="1830.1" r="1.7" fill="#7fc25a"/><circle cx="1186.6" cy="1833.2" r="1.7" fill="#d0573f"/><circle cx="1181.2" cy="1836.3" r="1.7" fill="#8fd46a"/>
<polygon points="1166.7,1781.0 1171.0,1783.5 1152.0,1794.5 1147.6,1792.0" fill="#9a5a3c"/><polygon points="1166.7,1777.0 1168.4,1778.0 1149.4,1789.0 1147.6,1788.0" fill="#7a4230"/>
<polygon points="1196.1,1790.0 1215.2,1801.0 1210.9,1803.5 1191.8,1792.5" fill="#9a5a3c"/><polygon points="1196.1,1786.0 1215.2,1797.0 1213.5,1798.0 1194.4,1787.0" fill="#7a4230"/>
<path d="M1168.9,1779.0 L1168.9,1751.2" stroke="#7a3f2e" stroke-width="2.6" fill="none"/><ellipse cx="1168.9" cy="1751.2" rx="7.0" ry="19.0" fill="#5fae5a"/><ellipse cx="1167.2" cy="1749.3" rx="4.9" ry="16.1" fill="#8fd47c"/>
<path d="M1086.0,2052.0 L1086.0,2016.0" stroke="#7a3f2e" stroke-width="2.6" fill="none"/><ellipse cx="1086.0" cy="2016.0" rx="10.0" ry="23.0" fill="#5fae5a"/><ellipse cx="1083.5" cy="2013.7" rx="7.0" ry="19.6" fill="#8fd47c"/>
<path d="M1106.0,2065.0 L1106.0,2029.0" stroke="#7a3f2e" stroke-width="2.6" fill="none"/><ellipse cx="1106.0" cy="2029.0" rx="10.0" ry="23.0" fill="#5fae5a"/><ellipse cx="1103.5" cy="2026.7" rx="7.0" ry="19.6" fill="#8fd47c"/>
<path d="M1128.0,2076.0 L1128.0,2040.0" stroke="#7a3f2e" stroke-width="2.6" fill="none"/><ellipse cx="1128.0" cy="2040.0" rx="10.0" ry="23.0" fill="#5fae5a"/><ellipse cx="1125.5" cy="2037.7" rx="7.0" ry="19.6" fill="#8fd47c"/>
<g>
<polygon points="953.6,2075.0 1020.3,2113.5 1020.3,2049.5 953.6,2011.0" fill="#e9f0f3"/><polygon points="1078.4,2080.0 1020.3,2113.5 1020.3,2049.5 1078.4,2016.0" fill="#9bb0c8"/><polygon points="1011.7,1977.5 1078.4,2016.0 1020.3,2049.5 953.6,2011.0" fill="#e3ecf0"/>
<polygon points="953.6,2075.0 1020.3,2113.5 1020.3,2097.5 953.6,2059.0" fill="#2a4560"/>
<polygon points="1078.4,2080.0 1020.3,2113.5 1020.3,2097.5 1078.4,2064.0" fill="#3a5878"/>
<polygon points="960.6,2055.0 964.5,2057.2 964.5,2033.2 960.6,2031.0" fill="#2a4560"/>
<polygon points="969.7,2060.2 973.6,2062.5 973.6,2038.5 969.7,2036.2" fill="#2a4560"/>
<polygon points="978.8,2065.5 982.7,2067.8 982.7,2043.8 978.8,2041.5" fill="#2a4560"/>
<polygon points="987.9,2070.8 991.8,2073.0 991.8,2049.0 987.9,2046.8" fill="#2a4560"/>
<polygon points="996.9,2076.0 1000.8,2078.2 1000.8,2054.2 996.9,2052.0" fill="#2a4560"/>
<polygon points="1006.0,2081.2 1009.9,2083.5 1009.9,2059.5 1006.0,2057.2" fill="#2a4560"/>
<polygon points="1070.6,2060.5 1066.7,2062.8 1066.7,2038.8 1070.6,2036.5" fill="#3a5878"/>
<polygon points="1061.0,2066.0 1057.1,2068.2 1057.1,2044.2 1061.0,2042.0" fill="#3a5878"/>
<polygon points="1051.5,2071.5 1047.6,2073.8 1047.6,2049.8 1051.5,2047.5" fill="#3a5878"/>
<polygon points="1042.0,2077.0 1038.1,2079.2 1038.1,2055.2 1042.0,2053.0" fill="#3a5878"/>
<polygon points="1032.5,2082.5 1028.6,2084.8 1028.6,2060.8 1032.5,2058.5" fill="#3a5878"/>
<polygon points="1011.7,1974.5 1083.5,2016.0 1020.3,2052.5 948.5,2011.0" fill="#e3ecf0"/><polygon points="948.5,2015.0 1020.3,2056.5 1020.3,2052.5 948.5,2011.0" fill="#c9d6de"/><polygon points="1083.5,2020.0 1020.3,2056.5 1020.3,2052.5 1083.5,2016.0" fill="#b4c4d0"/><polygon points="1011.7,1979.5 1073.2,2015.0 1020.3,2045.5 958.8,2010.0" fill="#8a5540"/><polygon points="1011.7,1981.5 1068.0,2014.0 1020.3,2041.5 964.0,2009.0" fill="#6e9a4a"/><circle cx="1012.3" cy="1982.9" r="4.2" fill="#8fd06f"/><circle cx="1005.2" cy="1987.0" r="4.2" fill="#a4dc86"/><circle cx="998.2" cy="1991.1" r="4.2" fill="#7cc060"/><circle cx="991.1" cy="1995.1" r="4.2" fill="#9ad67a"/><circle cx="984.1" cy="1999.2" r="4.2" fill="#86c868"/><circle cx="977.0" cy="2003.3" r="4.2" fill="#8fd06f"/><circle cx="970.0" cy="2007.4" r="4.2" fill="#a4dc86"/><circle cx="1020.6" cy="1987.7" r="4.2" fill="#7cc060"/><circle cx="1013.5" cy="1991.8" r="4.2" fill="#9ad67a"/><circle cx="1006.5" cy="1995.9" r="4.2" fill="#86c868"/><circle cx="999.4" cy="1999.9" r="4.2" fill="#8fd06f"/><circle cx="992.4" cy="2004.0" r="4.2" fill="#a4dc86"/><circle cx="985.3" cy="2008.1" r="4.2" fill="#7cc060"/><circle cx="978.3" cy="2012.1" r="4.2" fill="#9ad67a"/><circle cx="1028.9" cy="1992.5" r="4.2" fill="#86c868"/><circle cx="1021.8" cy="1996.6" r="4.2" fill="#8fd06f"/><circle cx="1014.8" cy="2000.6" r="4.2" fill="#a4dc86"/><circle cx="1007.7" cy="2004.7" r="4.2" fill="#7cc060"/><circle cx="1000.7" cy="2008.8" r="4.2" fill="#9ad67a"/><circle cx="993.6" cy="2012.9" r="4.2" fill="#86c868"/><circle cx="986.6" cy="2016.9" r="4.2" fill="#8fd06f"/><circle cx="1037.2" cy="1997.3" r="4.2" fill="#a4dc86"/><circle cx="1030.1" cy="2001.4" r="4.2" fill="#7cc060"/><circle cx="1023.1" cy="2005.4" r="4.2" fill="#9ad67a"/><circle cx="1016.0" cy="2009.5" r="4.2" fill="#86c868"/><circle cx="1008.9" cy="2013.6" r="4.2" fill="#8fd06f"/><circle cx="1001.9" cy="2017.6" r="4.2" fill="#a4dc86"/><circle cx="994.8" cy="2021.7" r="4.2" fill="#7cc060"/><circle cx="1045.4" cy="2002.1" r="4.2" fill="#9ad67a"/><circle cx="1038.4" cy="2006.1" r="4.2" fill="#86c868"/><circle cx="1031.3" cy="2010.2" r="4.2" fill="#8fd06f"/><circle cx="1024.3" cy="2014.3" r="4.2" fill="#a4dc86"/><circle cx="1017.2" cy="2018.4" r="4.2" fill="#7cc060"/><circle cx="1010.2" cy="2022.4" r="4.2" fill="#9ad67a"/><circle cx="1003.1" cy="2026.5" r="4.2" fill="#86c868"/><circle cx="1053.7" cy="2006.9" r="4.2" fill="#8fd06f"/><circle cx="1046.7" cy="2010.9" r="4.2" fill="#a4dc86"/><circle cx="1039.6" cy="2015.0" r="4.2" fill="#7cc060"/><circle cx="1032.6" cy="2019.1" r="4.2" fill="#9ad67a"/><circle cx="1025.5" cy="2023.1" r="4.2" fill="#86c868"/><circle cx="1018.5" cy="2027.2" r="4.2" fill="#8fd06f"/><circle cx="1011.4" cy="2031.3" r="4.2" fill="#a4dc86"/><circle cx="1062.0" cy="2011.6" r="4.2" fill="#7cc060"/><circle cx="1055.0" cy="2015.7" r="4.2" fill="#9ad67a"/><circle cx="1047.9" cy="2019.8" r="4.2" fill="#86c868"/><circle cx="1040.9" cy="2023.9" r="4.2" fill="#8fd06f"/><circle cx="1033.8" cy="2027.9" r="4.2" fill="#a4dc86"/><circle cx="1026.8" cy="2032.0" r="4.2" fill="#7cc060"/><circle cx="1019.7" cy="2036.1" r="4.2" fill="#9ad67a"/>
</g>
<path d="M901.9,2048.0 L901.9,2007.0" stroke="#7a3f2e" stroke-width="2.6" fill="none"/><ellipse cx="901.9" cy="2007.0" rx="11.0" ry="26.5" fill="#5fae5a"/><ellipse cx="899.1" cy="2004.3" rx="7.7" ry="22.5" fill="#8fd47c"/>
<polygon points="796.9,2077.5 847.1,2106.5 847.1,2101.5 796.9,2072.5" fill="#7a4634"/><polygon points="874.8,2090.5 847.1,2106.5 847.1,2101.5 874.8,2085.5" fill="#6a3a2b"/><polygon points="824.6,2056.5 874.8,2085.5 847.1,2101.5 796.9,2072.5" fill="#8a5540"/><polygon points="824.6,2058.5 871.4,2085.5 847.1,2099.5 800.4,2072.5" fill="#5a7d3c"/><circle cx="824.8" cy="2059.4" r="2.0" fill="#7fc25a"/><circle cx="819.9" cy="2062.2" r="2.0" fill="#8fd46a"/><circle cx="815.1" cy="2065.0" r="2.0" fill="#d0573f"/><circle cx="810.2" cy="2067.8" r="2.0" fill="#6aa84a"/><circle cx="805.4" cy="2070.6" r="2.0" fill="#7fc25a"/><circle cx="830.0" cy="2062.4" r="2.0" fill="#5f9444"/><circle cx="825.1" cy="2065.2" r="2.0" fill="#7a4a35"/><circle cx="820.3" cy="2068.0" r="2.0" fill="#7fc25a"/><circle cx="815.4" cy="2070.8" r="2.0" fill="#8fd46a"/><circle cx="810.6" cy="2073.6" r="2.0" fill="#d0573f"/><circle cx="835.2" cy="2065.4" r="2.0" fill="#6aa84a"/><circle cx="830.3" cy="2068.2" r="2.0" fill="#7fc25a"/><circle cx="825.5" cy="2071.0" r="2.0" fill="#5f9444"/><circle cx="820.6" cy="2073.8" r="2.0" fill="#7a4a35"/><circle cx="815.8" cy="2076.6" r="2.0" fill="#7fc25a"/><circle cx="840.4" cy="2068.4" r="2.0" fill="#8fd46a"/><circle cx="835.5" cy="2071.2" r="2.0" fill="#d0573f"/><circle cx="830.7" cy="2074.0" r="2.0" fill="#6aa84a"/><circle cx="825.8" cy="2076.8" r="2.0" fill="#7fc25a"/><circle cx="821.0" cy="2079.6" r="2.0" fill="#5f9444"/><circle cx="845.6" cy="2071.4" r="2.0" fill="#7a4a35"/><circle cx="840.7" cy="2074.2" r="2.0" fill="#7fc25a"/><circle cx="835.9" cy="2077.0" r="2.0" fill="#8fd46a"/><circle cx="831.0" cy="2079.8" r="2.0" fill="#d0573f"/><circle cx="826.2" cy="2082.6" r="2.0" fill="#6aa84a"/><circle cx="850.8" cy="2074.4" r="2.0" fill="#7fc25a"/><circle cx="845.9" cy="2077.2" r="2.0" fill="#5f9444"/><circle cx="841.1" cy="2080.0" r="2.0" fill="#7a4a35"/><circle cx="836.2" cy="2082.8" r="2.0" fill="#7fc25a"/><circle cx="831.4" cy="2085.6" r="2.0" fill="#8fd46a"/><circle cx="856.0" cy="2077.4" r="2.0" fill="#d0573f"/><circle cx="851.1" cy="2080.2" r="2.0" fill="#6aa84a"/><circle cx="846.3" cy="2083.0" r="2.0" fill="#7fc25a"/><circle cx="841.4" cy="2085.8" r="2.0" fill="#5f9444"/><circle cx="836.6" cy="2088.6" r="2.0" fill="#7a4a35"/><circle cx="861.2" cy="2080.4" r="2.0" fill="#7fc25a"/><circle cx="856.3" cy="2083.2" r="2.0" fill="#8fd46a"/><circle cx="851.5" cy="2086.0" r="2.0" fill="#d0573f"/><circle cx="846.6" cy="2088.8" r="2.0" fill="#6aa84a"/><circle cx="841.8" cy="2091.6" r="2.0" fill="#7fc25a"/><circle cx="866.4" cy="2083.4" r="2.0" fill="#5f9444"/><circle cx="861.5" cy="2086.2" r="2.0" fill="#7a4a35"/><circle cx="856.7" cy="2089.0" r="2.0" fill="#7fc25a"/><circle cx="851.8" cy="2091.8" r="2.0" fill="#8fd46a"/><circle cx="847.0" cy="2094.6" r="2.0" fill="#d0573f"/>
<polygon points="875.7,2123.0 903.4,2139.0 903.4,2134.0 875.7,2118.0" fill="#7a4634"/><polygon points="952.8,2110.5 903.4,2139.0 903.4,2134.0 952.8,2105.5" fill="#6a3a2b"/><polygon points="925.1,2089.5 952.8,2105.5 903.4,2134.0 875.7,2118.0" fill="#8a5540"/><polygon points="925.1,2091.5 949.3,2105.5 903.4,2132.0 879.2,2118.0" fill="#5a7d3c"/><circle cx="924.9" cy="2092.4" r="2.0" fill="#7fc25a"/><circle cx="919.8" cy="2095.3" r="2.0" fill="#8fd46a"/><circle cx="914.7" cy="2098.3" r="2.0" fill="#d0573f"/><circle cx="909.6" cy="2101.2" r="2.0" fill="#6aa84a"/><circle cx="904.5" cy="2104.2" r="2.0" fill="#7fc25a"/><circle cx="899.4" cy="2107.1" r="2.0" fill="#5f9444"/><circle cx="894.3" cy="2110.0" r="2.0" fill="#7a4a35"/><circle cx="889.2" cy="2113.0" r="2.0" fill="#7fc25a"/><circle cx="884.1" cy="2115.9" r="2.0" fill="#8fd46a"/><circle cx="929.8" cy="2095.2" r="2.0" fill="#d0573f"/><circle cx="924.7" cy="2098.1" r="2.0" fill="#6aa84a"/><circle cx="919.6" cy="2101.1" r="2.0" fill="#7fc25a"/><circle cx="914.5" cy="2104.0" r="2.0" fill="#5f9444"/><circle cx="909.4" cy="2106.9" r="2.0" fill="#7a4a35"/><circle cx="904.3" cy="2109.9" r="2.0" fill="#7fc25a"/><circle cx="899.2" cy="2112.8" r="2.0" fill="#8fd46a"/><circle cx="894.1" cy="2115.8" r="2.0" fill="#d0573f"/><circle cx="889.0" cy="2118.7" r="2.0" fill="#6aa84a"/><circle cx="934.6" cy="2098.0" r="2.0" fill="#7fc25a"/><circle cx="929.5" cy="2100.9" r="2.0" fill="#5f9444"/><circle cx="924.4" cy="2103.9" r="2.0" fill="#7a4a35"/><circle cx="919.3" cy="2106.8" r="2.0" fill="#7fc25a"/><circle cx="914.2" cy="2109.8" r="2.0" fill="#8fd46a"/><circle cx="909.1" cy="2112.7" r="2.0" fill="#d0573f"/><circle cx="904.0" cy="2115.6" r="2.0" fill="#6aa84a"/><circle cx="898.9" cy="2118.6" r="2.0" fill="#7fc25a"/><circle cx="893.8" cy="2121.5" r="2.0" fill="#5f9444"/><circle cx="939.5" cy="2100.8" r="2.0" fill="#7a4a35"/><circle cx="934.4" cy="2103.7" r="2.0" fill="#7fc25a"/><circle cx="929.3" cy="2106.7" r="2.0" fill="#8fd46a"/><circle cx="924.2" cy="2109.6" r="2.0" fill="#d0573f"/><circle cx="919.1" cy="2112.6" r="2.0" fill="#6aa84a"/><circle cx="914.0" cy="2115.5" r="2.0" fill="#7fc25a"/><circle cx="908.9" cy="2118.4" r="2.0" fill="#5f9444"/><circle cx="903.8" cy="2121.4" r="2.0" fill="#7a4a35"/><circle cx="898.7" cy="2124.3" r="2.0" fill="#7fc25a"/><circle cx="944.3" cy="2103.6" r="2.0" fill="#8fd46a"/><circle cx="939.2" cy="2106.5" r="2.0" fill="#d0573f"/><circle cx="934.1" cy="2109.5" r="2.0" fill="#6aa84a"/><circle cx="929.0" cy="2112.4" r="2.0" fill="#7fc25a"/><circle cx="923.9" cy="2115.3" r="2.0" fill="#5f9444"/><circle cx="918.8" cy="2118.3" r="2.0" fill="#7a4a35"/><circle cx="913.7" cy="2121.2" r="2.0" fill="#7fc25a"/><circle cx="908.6" cy="2124.2" r="2.0" fill="#8fd46a"/><circle cx="903.5" cy="2127.1" r="2.0" fill="#d0573f"/>
<polygon points="921.6,2149.5 948.5,2165.0 948.5,2160.0 921.6,2144.5" fill="#7a4634"/><polygon points="986.6,2143.0 948.5,2165.0 948.5,2160.0 986.6,2138.0" fill="#6a3a2b"/><polygon points="959.7,2122.5 986.6,2138.0 948.5,2160.0 921.6,2144.5" fill="#8a5540"/><polygon points="959.7,2124.5 983.1,2138.0 948.5,2158.0 925.1,2144.5" fill="#5a7d3c"/><circle cx="959.6" cy="2125.3" r="2.0" fill="#7fc25a"/><circle cx="954.6" cy="2128.1" r="2.0" fill="#8fd46a"/><circle cx="949.7" cy="2131.0" r="2.0" fill="#d0573f"/><circle cx="944.7" cy="2133.8" r="2.0" fill="#6aa84a"/><circle cx="939.8" cy="2136.7" r="2.0" fill="#7fc25a"/><circle cx="934.8" cy="2139.6" r="2.0" fill="#5f9444"/><circle cx="929.9" cy="2142.4" r="2.0" fill="#7a4a35"/><circle cx="964.2" cy="2128.0" r="2.0" fill="#7fc25a"/><circle cx="959.3" cy="2130.8" r="2.0" fill="#8fd46a"/><circle cx="954.4" cy="2133.7" r="2.0" fill="#d0573f"/><circle cx="949.4" cy="2136.6" r="2.0" fill="#6aa84a"/><circle cx="944.5" cy="2139.4" r="2.0" fill="#7fc25a"/><circle cx="939.5" cy="2142.3" r="2.0" fill="#5f9444"/><circle cx="934.6" cy="2145.1" r="2.0" fill="#7a4a35"/><circle cx="968.9" cy="2130.7" r="2.0" fill="#7fc25a"/><circle cx="964.0" cy="2133.5" r="2.0" fill="#8fd46a"/><circle cx="959.0" cy="2136.4" r="2.0" fill="#d0573f"/><circle cx="954.1" cy="2139.2" r="2.0" fill="#6aa84a"/><circle cx="949.1" cy="2142.1" r="2.0" fill="#7fc25a"/><circle cx="944.2" cy="2145.0" r="2.0" fill="#5f9444"/><circle cx="939.2" cy="2147.8" r="2.0" fill="#7a4a35"/><circle cx="973.6" cy="2133.4" r="2.0" fill="#7fc25a"/><circle cx="968.7" cy="2136.2" r="2.0" fill="#8fd46a"/><circle cx="963.7" cy="2139.1" r="2.0" fill="#d0573f"/><circle cx="958.8" cy="2141.9" r="2.0" fill="#6aa84a"/><circle cx="953.8" cy="2144.8" r="2.0" fill="#7fc25a"/><circle cx="948.9" cy="2147.7" r="2.0" fill="#5f9444"/><circle cx="943.9" cy="2150.5" r="2.0" fill="#7a4a35"/><circle cx="978.3" cy="2136.1" r="2.0" fill="#7fc25a"/><circle cx="973.3" cy="2138.9" r="2.0" fill="#8fd46a"/><circle cx="968.4" cy="2141.8" r="2.0" fill="#d0573f"/><circle cx="963.4" cy="2144.7" r="2.0" fill="#6aa84a"/><circle cx="958.5" cy="2147.5" r="2.0" fill="#7fc25a"/><circle cx="953.5" cy="2150.4" r="2.0" fill="#5f9444"/><circle cx="948.6" cy="2153.2" r="2.0" fill="#7a4a35"/>
<polygon points="1093.9,2136.0 1112.1,2146.5 1112.1,2141.5 1093.9,2131.0" fill="#7a4634"/><polygon points="1202.2,2094.5 1112.1,2146.5 1112.1,2141.5 1202.2,2089.5" fill="#6a3a2b"/><polygon points="1184.0,2079.0 1202.2,2089.5 1112.1,2141.5 1093.9,2131.0" fill="#8a5540"/><polygon points="1184.0,2081.0 1198.7,2089.5 1112.1,2139.5 1097.4,2131.0" fill="#6b7a3c"/><circle cx="1183.9" cy="2081.9" r="2.0" fill="#d0573f"/><circle cx="1178.8" cy="2084.8" r="2.0" fill="#8fd46a"/><circle cx="1173.7" cy="2087.8" r="2.0" fill="#e0705a"/><circle cx="1168.6" cy="2090.7" r="2.0" fill="#7fc25a"/><circle cx="1163.5" cy="2093.7" r="2.0" fill="#c8503a"/><circle cx="1158.4" cy="2096.6" r="2.0" fill="#6aa84a"/><circle cx="1153.3" cy="2099.5" r="2.0" fill="#e8927c"/><circle cx="1148.3" cy="2102.5" r="2.0" fill="#d0573f"/><circle cx="1143.2" cy="2105.4" r="2.0" fill="#8fd46a"/><circle cx="1138.1" cy="2108.4" r="2.0" fill="#e0705a"/><circle cx="1133.0" cy="2111.3" r="2.0" fill="#7fc25a"/><circle cx="1127.9" cy="2114.2" r="2.0" fill="#c8503a"/><circle cx="1122.8" cy="2117.2" r="2.0" fill="#6aa84a"/><circle cx="1117.7" cy="2120.1" r="2.0" fill="#e8927c"/><circle cx="1112.6" cy="2123.1" r="2.0" fill="#d0573f"/><circle cx="1107.5" cy="2126.0" r="2.0" fill="#8fd46a"/><circle cx="1102.4" cy="2128.9" r="2.0" fill="#e0705a"/><circle cx="1188.8" cy="2084.7" r="2.0" fill="#7fc25a"/><circle cx="1183.7" cy="2087.7" r="2.0" fill="#c8503a"/><circle cx="1178.6" cy="2090.6" r="2.0" fill="#6aa84a"/><circle cx="1173.5" cy="2093.5" r="2.0" fill="#e8927c"/><circle cx="1168.4" cy="2096.5" r="2.0" fill="#d0573f"/><circle cx="1163.4" cy="2099.4" r="2.0" fill="#8fd46a"/><circle cx="1158.3" cy="2102.4" r="2.0" fill="#e0705a"/><circle cx="1153.2" cy="2105.3" r="2.0" fill="#7fc25a"/><circle cx="1148.1" cy="2108.2" r="2.0" fill="#c8503a"/><circle cx="1143.0" cy="2111.2" r="2.0" fill="#6aa84a"/><circle cx="1137.9" cy="2114.1" r="2.0" fill="#e8927c"/><circle cx="1132.8" cy="2117.1" r="2.0" fill="#d0573f"/><circle cx="1127.7" cy="2120.0" r="2.0" fill="#8fd46a"/><circle cx="1122.6" cy="2123.0" r="2.0" fill="#e0705a"/><circle cx="1117.5" cy="2125.9" r="2.0" fill="#7fc25a"/><circle cx="1112.4" cy="2128.8" r="2.0" fill="#c8503a"/><circle cx="1107.3" cy="2131.8" r="2.0" fill="#6aa84a"/><circle cx="1193.7" cy="2087.6" r="2.0" fill="#e8927c"/><circle cx="1188.6" cy="2090.5" r="2.0" fill="#d0573f"/><circle cx="1183.5" cy="2093.4" r="2.0" fill="#8fd46a"/><circle cx="1178.4" cy="2096.4" r="2.0" fill="#e0705a"/><circle cx="1173.4" cy="2099.3" r="2.0" fill="#7fc25a"/><circle cx="1168.3" cy="2102.3" r="2.0" fill="#c8503a"/><circle cx="1163.2" cy="2105.2" r="2.0" fill="#6aa84a"/><circle cx="1158.1" cy="2108.1" r="2.0" fill="#e8927c"/><circle cx="1153.0" cy="2111.1" r="2.0" fill="#d0573f"/><circle cx="1147.9" cy="2114.0" r="2.0" fill="#8fd46a"/><circle cx="1142.8" cy="2117.0" r="2.0" fill="#e0705a"/><circle cx="1137.7" cy="2119.9" r="2.0" fill="#7fc25a"/><circle cx="1132.6" cy="2122.8" r="2.0" fill="#c8503a"/><circle cx="1127.5" cy="2125.8" r="2.0" fill="#6aa84a"/><circle cx="1122.4" cy="2128.7" r="2.0" fill="#e8927c"/><circle cx="1117.3" cy="2131.7" r="2.0" fill="#d0573f"/><circle cx="1112.2" cy="2134.6" r="2.0" fill="#8fd46a"/>
<polygon points="1187.5,2048.0 1236.0,2076.0 1236.0,2071.0 1187.5,2043.0" fill="#7a4634"/><polygon points="1257.6,2063.5 1236.0,2076.0 1236.0,2071.0 1257.6,2058.5" fill="#6a3a2b"/><polygon points="1209.1,2030.5 1257.6,2058.5 1236.0,2071.0 1187.5,2043.0" fill="#8a5540"/><polygon points="1209.1,2032.5 1254.2,2058.5 1236.0,2069.0 1190.9,2043.0" fill="#6b7a3c"/><circle cx="1209.4" cy="2033.3" r="2.0" fill="#d0573f"/><circle cx="1204.8" cy="2035.9" r="2.0" fill="#8fd46a"/><circle cx="1200.3" cy="2038.5" r="2.0" fill="#e0705a"/><circle cx="1195.7" cy="2041.1" r="2.0" fill="#7fc25a"/><circle cx="1214.4" cy="2036.1" r="2.0" fill="#c8503a"/><circle cx="1209.8" cy="2038.8" r="2.0" fill="#6aa84a"/><circle cx="1205.3" cy="2041.4" r="2.0" fill="#e8927c"/><circle cx="1200.7" cy="2044.0" r="2.0" fill="#d0573f"/><circle cx="1219.4" cy="2039.0" r="2.0" fill="#8fd46a"/><circle cx="1214.8" cy="2041.7" r="2.0" fill="#e0705a"/><circle cx="1210.3" cy="2044.3" r="2.0" fill="#7fc25a"/><circle cx="1205.7" cy="2046.9" r="2.0" fill="#c8503a"/><circle cx="1224.4" cy="2041.9" r="2.0" fill="#6aa84a"/><circle cx="1219.8" cy="2044.5" r="2.0" fill="#e8927c"/><circle cx="1215.3" cy="2047.2" r="2.0" fill="#d0573f"/><circle cx="1210.7" cy="2049.8" r="2.0" fill="#8fd46a"/><circle cx="1229.4" cy="2044.8" r="2.0" fill="#e0705a"/><circle cx="1224.8" cy="2047.4" r="2.0" fill="#7fc25a"/><circle cx="1220.3" cy="2050.1" r="2.0" fill="#c8503a"/><circle cx="1215.7" cy="2052.7" r="2.0" fill="#6aa84a"/><circle cx="1234.4" cy="2047.7" r="2.0" fill="#e8927c"/><circle cx="1229.8" cy="2050.3" r="2.0" fill="#d0573f"/><circle cx="1225.3" cy="2053.0" r="2.0" fill="#8fd46a"/><circle cx="1220.7" cy="2055.6" r="2.0" fill="#e0705a"/><circle cx="1239.4" cy="2050.6" r="2.0" fill="#7fc25a"/><circle cx="1234.8" cy="2053.2" r="2.0" fill="#c8503a"/><circle cx="1230.3" cy="2055.8" r="2.0" fill="#6aa84a"/><circle cx="1225.7" cy="2058.5" r="2.0" fill="#e8927c"/><circle cx="1244.4" cy="2053.5" r="2.0" fill="#d0573f"/><circle cx="1239.8" cy="2056.1" r="2.0" fill="#8fd46a"/><circle cx="1235.3" cy="2058.7" r="2.0" fill="#e0705a"/><circle cx="1230.7" cy="2061.4" r="2.0" fill="#7fc25a"/><circle cx="1249.4" cy="2056.4" r="2.0" fill="#c8503a"/><circle cx="1244.8" cy="2059.0" r="2.0" fill="#6aa84a"/><circle cx="1240.3" cy="2061.6" r="2.0" fill="#e8927c"/><circle cx="1235.7" cy="2064.2" r="2.0" fill="#d0573f"/>
<polygon points="919.0,2024.0 925.1,2027.5 925.1,2023.5 919.0,2020.0" fill="#8a5034"/><polygon points="945.9,2015.5 925.1,2027.5 925.1,2023.5 945.9,2011.5" fill="#6f3e28"/><polygon points="939.8,2008.0 945.9,2011.5 925.1,2023.5 919.0,2020.0" fill="#a5633f"/><polygon points="919.0,2024.0 920.7,2025.0 920.7,2015.0 919.0,2014.0" fill="#9a5a3c"/><polygon points="941.5,2013.0 920.7,2025.0 920.7,2015.0 941.5,2003.0" fill="#6f3e28"/><polygon points="939.8,2002.0 941.5,2003.0 920.7,2015.0 919.0,2014.0" fill="#a5633f"/>
<polygon points="738.9,2039.0 759.7,2051.0 759.7,2047.0 738.9,2035.0" fill="#8a5034"/><polygon points="765.7,2047.5 759.7,2051.0 759.7,2047.0 765.7,2043.5" fill="#6f3e28"/><polygon points="744.9,2031.5 765.7,2043.5 759.7,2047.0 738.9,2035.0" fill="#a5633f"/><polygon points="743.2,2036.5 764.0,2048.5 764.0,2038.5 743.2,2026.5" fill="#9a5a3c"/><polygon points="765.7,2047.5 764.0,2048.5 764.0,2038.5 765.7,2037.5" fill="#6f3e28"/><polygon points="744.9,2025.5 765.7,2037.5 764.0,2038.5 743.2,2026.5" fill="#a5633f"/>
<polygon points="1035.1,2180.0 1041.1,2183.5 1041.1,2179.5 1035.1,2176.0" fill="#8a5034"/><polygon points="1061.9,2171.5 1041.1,2183.5 1041.1,2179.5 1061.9,2167.5" fill="#6f3e28"/><polygon points="1055.8,2164.0 1061.9,2167.5 1041.1,2179.5 1035.1,2176.0" fill="#a5633f"/><polygon points="1035.1,2180.0 1036.8,2181.0 1036.8,2171.0 1035.1,2170.0" fill="#9a5a3c"/><polygon points="1057.6,2169.0 1036.8,2181.0 1036.8,2171.0 1057.6,2159.0" fill="#6f3e28"/><polygon points="1055.8,2158.0 1057.6,2159.0 1036.8,2171.0 1035.1,2170.0" fill="#a5633f"/>
<polygon points="1092.2,2079.0 1098.3,2082.5 1098.3,2078.5 1092.2,2075.0" fill="#8a5034"/><polygon points="1119.1,2070.5 1098.3,2082.5 1098.3,2078.5 1119.1,2066.5" fill="#6f3e28"/><polygon points="1113.0,2063.0 1119.1,2066.5 1098.3,2078.5 1092.2,2075.0" fill="#a5633f"/><polygon points="1092.2,2079.0 1093.9,2080.0 1093.9,2070.0 1092.2,2069.0" fill="#9a5a3c"/><polygon points="1114.7,2068.0 1093.9,2080.0 1093.9,2070.0 1114.7,2058.0" fill="#6f3e28"/><polygon points="1113.0,2057.0 1114.7,2058.0 1093.9,2070.0 1092.2,2069.0" fill="#a5633f"/>
<polygon points="1227.3,2017.0 1248.1,2029.0 1248.1,2025.0 1227.3,2013.0" fill="#8a5034"/><polygon points="1254.2,2025.5 1248.1,2029.0 1248.1,2025.0 1254.2,2021.5" fill="#6f3e28"/><polygon points="1233.4,2009.5 1254.2,2021.5 1248.1,2025.0 1227.3,2013.0" fill="#a5633f"/><polygon points="1231.6,2014.5 1252.4,2026.5 1252.4,2016.5 1231.6,2004.5" fill="#9a5a3c"/><polygon points="1254.2,2025.5 1252.4,2026.5 1252.4,2016.5 1254.2,2015.5" fill="#6f3e28"/><polygon points="1233.4,2003.5 1254.2,2015.5 1252.4,2016.5 1231.6,2004.5" fill="#a5633f"/>
<polygon points="1257.6,2034.5 1278.4,2046.5 1278.4,2042.5 1257.6,2030.5" fill="#8a5034"/><polygon points="1284.5,2043.0 1278.4,2046.5 1278.4,2042.5 1284.5,2039.0" fill="#6f3e28"/><polygon points="1263.7,2027.0 1284.5,2039.0 1278.4,2042.5 1257.6,2030.5" fill="#a5633f"/><polygon points="1262.0,2032.0 1282.7,2044.0 1282.7,2034.0 1262.0,2022.0" fill="#9a5a3c"/><polygon points="1284.5,2043.0 1282.7,2044.0 1282.7,2034.0 1284.5,2033.0" fill="#6f3e28"/><polygon points="1263.7,2021.0 1284.5,2033.0 1282.7,2034.0 1262.0,2022.0" fill="#a5633f"/>
<ellipse cx="726.8" cy="2030.0" rx="14.1" ry="6.4" fill="#4f9a4a" opacity="0.5"/><path d="M726.8,2030.0 L726.8,1988.3 M726.8,2004.5 L716.6,1992.1 M726.8,2004.5 L737.0,1992.1" stroke="#7a3f2e" stroke-width="3.2" fill="none" stroke-linecap="round"/><circle cx="726.8" cy="1972.9" r="25.6" fill="#5fae5a"/><ellipse cx="725.5" cy="1967.3" rx="24.8" ry="19.5" fill="#7cc56e"/><ellipse cx="724.2" cy="1961.4" rx="21.8" ry="13.3" fill="#a5dc8c"/>
<ellipse cx="776.0" cy="2055.0" rx="14.1" ry="6.4" fill="#4f9a4a" opacity="0.5"/><path d="M776.0,2055.0 L776.0,2015.4 M776.0,2031.6 L765.8,2019.2 M776.0,2031.6 L786.2,2019.2" stroke="#7a3f2e" stroke-width="3.2" fill="none" stroke-linecap="round"/><circle cx="776.0" cy="2000.0" r="25.6" fill="#5fae5a"/><ellipse cx="774.7" cy="1994.4" rx="24.8" ry="19.5" fill="#7cc56e"/><ellipse cx="773.4" cy="1988.5" rx="21.8" ry="13.3" fill="#a5dc8c"/>
<ellipse cx="1255.0" cy="2019.0" rx="14.6" ry="6.6" fill="#4f9a4a" opacity="0.5"/><path d="M1255.0,2019.0 L1255.0,1974.9 M1255.0,1991.5 L1244.4,1978.9 M1255.0,1991.5 L1265.6,1978.9" stroke="#7a3f2e" stroke-width="3.2" fill="none" stroke-linecap="round"/><circle cx="1255.0" cy="1959.0" r="26.5" fill="#5fae5a"/><ellipse cx="1253.7" cy="1953.2" rx="25.7" ry="20.1" fill="#7cc56e"/><ellipse cx="1252.3" cy="1947.1" rx="22.5" ry="13.8" fill="#a5dc8c"/>
<ellipse cx="1295.7" cy="2044.0" rx="14.6" ry="6.6" fill="#4f9a4a" opacity="0.5"/><path d="M1295.7,2044.0 L1295.7,1999.7 M1295.7,2016.3 L1285.1,2003.7 M1295.7,2016.3 L1306.3,2003.7" stroke="#7a3f2e" stroke-width="3.2" fill="none" stroke-linecap="round"/><circle cx="1295.7" cy="1983.8" r="26.5" fill="#5fae5a"/><ellipse cx="1294.4" cy="1978.0" rx="25.7" ry="20.1" fill="#7cc56e"/><ellipse cx="1293.0" cy="1971.9" rx="22.5" ry="13.8" fill="#a5dc8c"/>
<ellipse cx="1076.7" cy="2160.0" rx="14.1" ry="6.4" fill="#4f9a4a" opacity="0.5"/><path d="M1076.7,2160.0 L1076.7,2116.4 M1076.7,2132.6 L1066.5,2120.2 M1076.7,2132.6 L1086.9,2120.2" stroke="#7a3f2e" stroke-width="3.2" fill="none" stroke-linecap="round"/><circle cx="1076.7" cy="2101.0" r="25.6" fill="#5fae5a"/><ellipse cx="1075.4" cy="2095.4" rx="24.8" ry="19.5" fill="#7cc56e"/><ellipse cx="1074.1" cy="2089.5" rx="21.8" ry="13.3" fill="#a5dc8c"/>
<ellipse cx="1015.0" cy="2197.0" rx="13.5" ry="6.2" fill="#4f9a4a" opacity="0.5"/><path d="M1015.0,2197.0 L1015.0,2152.8 M1015.0,2168.6 L1005.2,2156.4 M1015.0,2168.6 L1024.8,2156.4" stroke="#7a3f2e" stroke-width="3.2" fill="none" stroke-linecap="round"/><circle cx="1015.0" cy="2138.0" r="24.6" fill="#5fae5a"/><ellipse cx="1013.8" cy="2132.6" rx="23.9" ry="18.7" fill="#7cc56e"/><ellipse cx="1012.5" cy="2126.9" rx="20.9" ry="12.8" fill="#a5dc8c"/></g>
<text x="799.0" y="2354.6" font-size="42" font-weight="normal" font-style="italic" fill="#111" textLength="460.0" lengthAdjust="spacingAndGlyphs" stroke="#111" stroke-width="0.6" stroke-linejoin="round">(Nghị quyết số 07/NQ-CP</text>
<text x="731.0" y="2419.1" font-size="42" font-weight="normal" font-style="italic" fill="#111" textLength="603.0" lengthAdjust="spacingAndGlyphs" stroke="#111" stroke-width="0.6" stroke-linejoin="round">ngày 12/01/2026 của Chính phủ)</text>
<text x="44.0" y="2721.5" font-size="42" font-weight="normal" font-style="normal" fill="#3d4043" textLength="396.0" lengthAdjust="spacingAndGlyphs" stroke="#3d4043" stroke-width="0.6" stroke-linejoin="round">https://infographics.vn/</text>
<circle cx="1139.3" cy="2686.3" r="25.2" fill="none" stroke="#3b57a6" stroke-width="4.4"/>
<text x="1129.3" y="2703.2" font-size="45" font-weight="bold" font-style="normal" fill="#3b57a6" textLength="20.0" lengthAdjust="spacingAndGlyphs">C</text>
<text x="1196.5" y="2716.8" font-size="75" font-weight="bold" fill="#3b57a6" stroke="#3b57a6" stroke-width="8" stroke-linejoin="miter" textLength="260.5" lengthAdjust="spacingAndGlyphs">TTX<tspan fill="#e0162b" stroke="#e0162b">V</tspan>N</text>
<circle cx="1366" cy="2697.6" r="13.7" fill="#e9ecf5" stroke="#aab4d4" stroke-width="1.2"/><path d="M1358,2692 q5,-5 10,-2 q3,4 -1,7 q2,5 -3,8 q-4,-3 -3,-7 q-4,-2 -3,-6z" fill="#c3cbe3"/>
<ellipse cx="1362" cy="2698" rx="33" ry="9" fill="none" stroke="#d8202f" stroke-width="1.6" transform="rotate(-18 1362 2698)"/>
<text x="1283.9" y="2736.3" font-size="15.8" font-weight="bold" font-style="normal" fill="#d2202f" textLength="172.0" lengthAdjust="spacingAndGlyphs">Vietnam News Agency</text>
<text x="197" y="1130" transform="rotate(-44 197 1130)" text-anchor="middle" font-size="60" font-weight="bold" textLength="354" lengthAdjust="spacingAndGlyphs" fill="#000" fill-opacity="0.035">INFOGRAPHICS</text><text x="197" y="1130" transform="rotate(-44 197 1130)" text-anchor="middle" font-size="60" font-weight="bold" textLength="354" lengthAdjust="spacingAndGlyphs" fill="#fff" fill-opacity="0.28">INFOGRAPHICS</text>
<text x="842" y="1236" transform="rotate(-44 842 1236)" text-anchor="middle" font-size="60" font-weight="bold" textLength="354" lengthAdjust="spacingAndGlyphs" fill="#000" fill-opacity="0.035">INFOGRAPHICS</text><text x="842" y="1236" transform="rotate(-44 842 1236)" text-anchor="middle" font-size="60" font-weight="bold" textLength="354" lengthAdjust="spacingAndGlyphs" fill="#fff" fill-opacity="0.28">INFOGRAPHICS</text>
<text x="1217" y="1612" transform="rotate(-44 1217 1612)" text-anchor="middle" font-size="60" font-weight="bold" textLength="354" lengthAdjust="spacingAndGlyphs" fill="#000" fill-opacity="0.035">INFOGRAPHICS</text><text x="1217" y="1612" transform="rotate(-44 1217 1612)" text-anchor="middle" font-size="60" font-weight="bold" textLength="354" lengthAdjust="spacingAndGlyphs" fill="#fff" fill-opacity="0.28">INFOGRAPHICS</text>
<text x="300" y="1790" transform="rotate(-44 300 1790)" text-anchor="middle" font-size="60" font-weight="bold" textLength="354" lengthAdjust="spacingAndGlyphs" fill="#000" fill-opacity="0.035">INFOGRAPHICS</text><text x="300" y="1790" transform="rotate(-44 300 1790)" text-anchor="middle" font-size="60" font-weight="bold" textLength="354" lengthAdjust="spacingAndGlyphs" fill="#fff" fill-opacity="0.28">INFOGRAPHICS</text>
<text x="641" y="2178" transform="rotate(-44 641 2178)" text-anchor="middle" font-size="60" font-weight="bold" textLength="354" lengthAdjust="spacingAndGlyphs" fill="#000" fill-opacity="0.035">INFOGRAPHICS</text><text x="641" y="2178" transform="rotate(-44 641 2178)" text-anchor="middle" font-size="60" font-weight="bold" textLength="354" lengthAdjust="spacingAndGlyphs" fill="#fff" fill-opacity="0.28">INFOGRAPHICS</text>
<text x="1348" y="2244" transform="rotate(-44 1348 2244)" text-anchor="middle" font-size="60" font-weight="bold" textLength="354" lengthAdjust="spacingAndGlyphs" fill="#000" fill-opacity="0.035">INFOGRAPHICS</text><text x="1348" y="2244" transform="rotate(-44 1348 2244)" text-anchor="middle" font-size="60" font-weight="bold" textLength="354" lengthAdjust="spacingAndGlyphs" fill="#fff" fill-opacity="0.28">INFOGRAPHICS</text>
<text x="842" y="2714" transform="rotate(-44 842 2714)" text-anchor="middle" font-size="60" font-weight="bold" textLength="354" lengthAdjust="spacingAndGlyphs" fill="#000" fill-opacity="0.035">INFOGRAPHICS</text><text x="842" y="2714" transform="rotate(-44 842 2714)" text-anchor="middle" font-size="60" font-weight="bold" textLength="354" lengthAdjust="spacingAndGlyphs" fill="#fff" fill-opacity="0.28">INFOGRAPHICS</text>
<text x="185" y="2692" transform="rotate(-44 185 2692)" text-anchor="middle" font-size="60" font-weight="bold" textLength="354" lengthAdjust="spacingAndGlyphs" fill="#000" fill-opacity="0.035">INFOGRAPHICS</text><text x="185" y="2692" transform="rotate(-44 185 2692)" text-anchor="middle" font-size="60" font-weight="bold" textLength="354" lengthAdjust="spacingAndGlyphs" fill="#fff" fill-opacity="0.28">INFOGRAPHICS</text>
<text x="1304" y="1148" transform="rotate(-42.5 1304 1148)" text-anchor="middle" font-size="80" font-weight="bold" textLength="505" lengthAdjust="spacingAndGlyphs" fill="none" stroke="#000" stroke-opacity="0.05" stroke-width="3">TTXVN ― VNA</text><text x="1304" y="1148" transform="rotate(-42.5 1304 1148)" text-anchor="middle" font-size="80" font-weight="bold" textLength="505" lengthAdjust="spacingAndGlyphs" fill="none" stroke="#fff" stroke-opacity="0.42" stroke-width="1.5">TTXVN ― VNA</text>
<text x="380" y="1343" transform="rotate(-42.5 380 1343)" text-anchor="middle" font-size="80" font-weight="bold" textLength="505" lengthAdjust="spacingAndGlyphs" fill="none" stroke="#000" stroke-opacity="0.05" stroke-width="3">TTXVN ― VNA</text><text x="380" y="1343" transform="rotate(-42.5 380 1343)" text-anchor="middle" font-size="80" font-weight="bold" textLength="505" lengthAdjust="spacingAndGlyphs" fill="none" stroke="#fff" stroke-opacity="0.42" stroke-width="1.5">TTXVN ― VNA</text>
<text x="750" y="1712" transform="rotate(-42.5 750 1712)" text-anchor="middle" font-size="80" font-weight="bold" textLength="505" lengthAdjust="spacingAndGlyphs" fill="none" stroke="#000" stroke-opacity="0.05" stroke-width="3">TTXVN ― VNA</text><text x="750" y="1712" transform="rotate(-42.5 750 1712)" text-anchor="middle" font-size="80" font-weight="bold" textLength="505" lengthAdjust="spacingAndGlyphs" fill="none" stroke="#fff" stroke-opacity="0.42" stroke-width="1.5">TTXVN ― VNA</text>
<text x="190" y="2244" transform="rotate(-42.5 190 2244)" text-anchor="middle" font-size="80" font-weight="bold" textLength="505" lengthAdjust="spacingAndGlyphs" fill="none" stroke="#000" stroke-opacity="0.05" stroke-width="3">TTXVN ― VNA</text><text x="190" y="2244" transform="rotate(-42.5 190 2244)" text-anchor="middle" font-size="80" font-weight="bold" textLength="505" lengthAdjust="spacingAndGlyphs" fill="none" stroke="#fff" stroke-opacity="0.42" stroke-width="1.5">TTXVN ― VNA</text>
<text x="1140" y="2068" transform="rotate(-42.5 1140 2068)" text-anchor="middle" font-size="80" font-weight="bold" textLength="505" lengthAdjust="spacingAndGlyphs" fill="none" stroke="#000" stroke-opacity="0.05" stroke-width="3">TTXVN ― VNA</text><text x="1140" y="2068" transform="rotate(-42.5 1140 2068)" text-anchor="middle" font-size="80" font-weight="bold" textLength="505" lengthAdjust="spacingAndGlyphs" fill="none" stroke="#fff" stroke-opacity="0.42" stroke-width="1.5">TTXVN ― VNA</text>
<text x="1288" y="2650" transform="rotate(-42.5 1288 2650)" text-anchor="middle" font-size="80" font-weight="bold" textLength="505" lengthAdjust="spacingAndGlyphs" fill="none" stroke="#000" stroke-opacity="0.05" stroke-width="3">TTXVN ― VNA</text><text x="1288" y="2650" transform="rotate(-42.5 1288 2650)" text-anchor="middle" font-size="80" font-weight="bold" textLength="505" lengthAdjust="spacingAndGlyphs" fill="none" stroke="#fff" stroke-opacity="0.42" stroke-width="1.5">TTXVN ― VNA</text>
<text x="420" y="2788" transform="rotate(-42.5 420 2788)" text-anchor="middle" font-size="80" font-weight="bold" textLength="505" lengthAdjust="spacingAndGlyphs" fill="none" stroke="#000" stroke-opacity="0.05" stroke-width="3">TTXVN ― VNA</text><text x="420" y="2788" transform="rotate(-42.5 420 2788)" text-anchor="middle" font-size="80" font-weight="bold" textLength="505" lengthAdjust="spacingAndGlyphs" fill="none" stroke="#fff" stroke-opacity="0.42" stroke-width="1.5">TTXVN ― VNA</text>
<path d="M0,0H1500V2801H0Z M6.5,6.5V2794.8H1493.7V6.5Z" fill="#db838b" fill-rule="evenodd"/>
</svg></body></html>
